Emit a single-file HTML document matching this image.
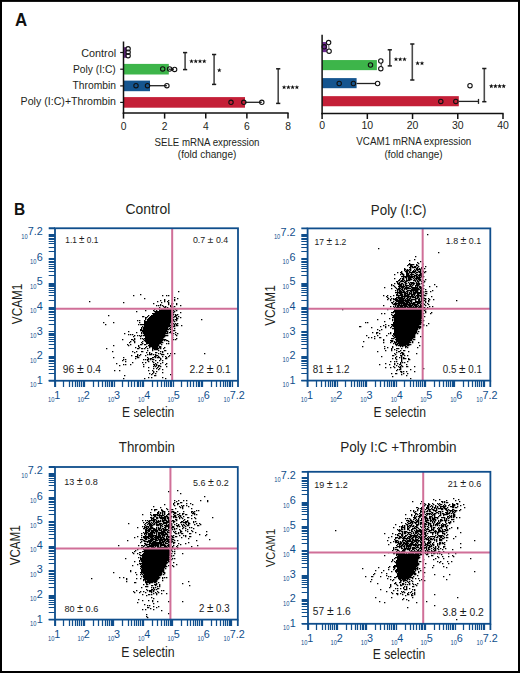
<!DOCTYPE html>
<html><head><meta charset="utf-8"><style>
html,body{margin:0;padding:0;background:#fff;}
svg{display:block;}
text{font-family:"Liberation Sans", sans-serif;}
</style></head><body>
<svg width="520" height="673" viewBox="0 0 520 673" fill="#231f20" font-family='"Liberation Sans", sans-serif'>
<rect width="520" height="673" fill="#fff"/>
<text x="15" y="25.6" font-size="17.6" textLength="12.2" lengthAdjust="spacingAndGlyphs" font-weight="bold" fill="#111">A</text>
<rect x="123.5" y="47.2" width="3.1" height="10.6" fill="#6c2a8e"/>
<rect x="123.5" y="63.9" width="45.3" height="10.6" fill="#3db54a"/>
<rect x="123.5" y="80.6" width="26.5" height="10.6" fill="#15558f"/>
<rect x="123.5" y="97.1" width="121.5" height="10.6" fill="#c41f37"/>
<line x1="150" y1="85.7" x2="166.9" y2="85.7" stroke="#222" stroke-width="1.3"/>
<line x1="245" y1="102.3" x2="261.8" y2="102.3" stroke="#222" stroke-width="1.3"/>
<line x1="168.8" y1="69.2" x2="174" y2="69.2" stroke="#222" stroke-width="1.3"/>
<circle cx="128.1" cy="48.8" r="2.2" fill="none" stroke="#111" stroke-width="1.1"/>
<circle cx="128.1" cy="52.2" r="2.2" fill="none" stroke="#111" stroke-width="1.1"/>
<circle cx="128.1" cy="55.7" r="2.2" fill="none" stroke="#111" stroke-width="1.1"/>
<circle cx="162.7" cy="68.9" r="2.2" fill="none" stroke="#111" stroke-width="1.1"/>
<circle cx="169.6" cy="69" r="2.2" fill="none" stroke="#111" stroke-width="1.1"/>
<circle cx="174.6" cy="69.4" r="2.2" fill="none" stroke="#111" stroke-width="1.1"/>
<circle cx="136" cy="85.7" r="2.2" fill="none" stroke="#111" stroke-width="1.1"/>
<circle cx="147.5" cy="85.7" r="2.2" fill="none" stroke="#111" stroke-width="1.1"/>
<circle cx="166.9" cy="85.7" r="2.2" fill="none" stroke="#111" stroke-width="1.1"/>
<circle cx="231" cy="102.3" r="2.2" fill="none" stroke="#111" stroke-width="1.1"/>
<circle cx="243.8" cy="102.3" r="2.2" fill="none" stroke="#111" stroke-width="1.1"/>
<circle cx="261.8" cy="102.3" r="2.2" fill="none" stroke="#111" stroke-width="1.1"/>
<line x1="123.5" y1="41.5" x2="123.5" y2="113.8" stroke="#111" stroke-width="1.5"/>
<line x1="122.75" y1="113" x2="288.6" y2="113" stroke="#111" stroke-width="1.5"/>
<line x1="123.5" y1="113" x2="123.5" y2="118.6" stroke="#111" stroke-width="1.5"/>
<text x="123.5" y="129.6" font-size="10.3" text-anchor="middle">0</text>
<line x1="164.62" y1="113" x2="164.62" y2="118.6" stroke="#111" stroke-width="1.5"/>
<text x="164.62" y="129.6" font-size="10.3" text-anchor="middle">2</text>
<line x1="205.75" y1="113" x2="205.75" y2="118.6" stroke="#111" stroke-width="1.5"/>
<text x="205.75" y="129.6" font-size="10.3" text-anchor="middle">4</text>
<line x1="246.88" y1="113" x2="246.88" y2="118.6" stroke="#111" stroke-width="1.5"/>
<text x="246.88" y="129.6" font-size="10.3" text-anchor="middle">6</text>
<line x1="288" y1="113" x2="288" y2="118.6" stroke="#111" stroke-width="1.5"/>
<text x="288" y="129.6" font-size="10.3" text-anchor="middle">8</text>
<line x1="120.2" y1="52.5" x2="123.5" y2="52.5" stroke="#111" stroke-width="1.2"/>
<line x1="120.2" y1="69.2" x2="123.5" y2="69.2" stroke="#111" stroke-width="1.2"/>
<line x1="120.2" y1="85.9" x2="123.5" y2="85.9" stroke="#111" stroke-width="1.2"/>
<line x1="120.2" y1="102.4" x2="123.5" y2="102.4" stroke="#111" stroke-width="1.2"/>
<text x="116.1" y="56.8" font-size="10.6" textLength="34.8" lengthAdjust="spacingAndGlyphs" text-anchor="end">Control</text>
<text x="115.8" y="72.6" font-size="10.6" textLength="42.9" lengthAdjust="spacingAndGlyphs" text-anchor="end">Poly (I:C)</text>
<text x="116" y="89" font-size="10.6" textLength="43.5" lengthAdjust="spacingAndGlyphs" text-anchor="end">Thrombin</text>
<text x="116" y="105.1" font-size="10.6" textLength="95.4" lengthAdjust="spacingAndGlyphs" text-anchor="end">Poly (I:C)+Thrombin</text>
<text x="207" y="146.1" font-size="11.6" textLength="105" lengthAdjust="spacingAndGlyphs" text-anchor="middle">SELE mRNA expression</text>
<text x="207.1" y="158.3" font-size="11.6" textLength="58.5" lengthAdjust="spacingAndGlyphs" text-anchor="middle">(fold change)</text>
<line x1="185.1" y1="52.6" x2="185.1" y2="69.6" stroke="#4a4a4a" stroke-width="1.6"/>
<line x1="183" y1="52.6" x2="187.2" y2="52.6" stroke="#1a1a1a" stroke-width="1.5"/>
<line x1="183" y1="69.6" x2="187.2" y2="69.6" stroke="#1a1a1a" stroke-width="1.5"/>
<path d="M191.5 58.9L192.12 60.45L193.78 60.56L192.5 61.62L192.91 63.24L191.5 62.35L190.09 63.24L190.5 61.62L189.22 60.56L190.88 60.45ZM195.75 58.9L196.37 60.45L198.03 60.56L196.75 61.62L197.16 63.24L195.75 62.35L194.34 63.24L194.75 61.62L193.47 60.56L195.13 60.45ZM200 58.9L200.62 60.45L202.28 60.56L201 61.62L201.41 63.24L200 62.35L198.59 63.24L199 61.62L197.72 60.56L199.38 60.45ZM204.25 58.9L204.87 60.45L206.53 60.56L205.25 61.62L205.66 63.24L204.25 62.35L202.84 63.24L203.25 61.62L201.97 60.56L203.63 60.45Z" fill="#111"/>
<line x1="214.1" y1="54.5" x2="214.1" y2="84.4" stroke="#4a4a4a" stroke-width="1.6"/>
<line x1="212" y1="54.5" x2="216.2" y2="54.5" stroke="#1a1a1a" stroke-width="1.5"/>
<line x1="212" y1="84.4" x2="216.2" y2="84.4" stroke="#1a1a1a" stroke-width="1.5"/>
<path d="M219.3 67.9L219.92 69.45L221.58 69.56L220.3 70.62L220.71 72.24L219.3 71.35L217.89 72.24L218.3 70.62L217.02 69.56L218.68 69.45Z" fill="#111"/>
<line x1="278.2" y1="68.8" x2="278.2" y2="103.4" stroke="#4a4a4a" stroke-width="1.6"/>
<line x1="276.1" y1="68.8" x2="280.3" y2="68.8" stroke="#1a1a1a" stroke-width="1.5"/>
<line x1="276.1" y1="103.4" x2="280.3" y2="103.4" stroke="#1a1a1a" stroke-width="1.5"/>
<path d="M284.1 84.9L284.72 86.45L286.38 86.56L285.1 87.62L285.51 89.24L284.1 88.35L282.69 89.24L283.1 87.62L281.82 86.56L283.48 86.45ZM288.4 84.9L289.02 86.45L290.68 86.56L289.4 87.62L289.81 89.24L288.4 88.35L286.99 89.24L287.4 87.62L286.12 86.56L287.78 86.45ZM292.6 84.9L293.22 86.45L294.88 86.56L293.6 87.62L294.01 89.24L292.6 88.35L291.19 89.24L291.6 87.62L290.32 86.56L291.98 86.45ZM296.9 84.9L297.52 86.45L299.18 86.56L297.9 87.62L298.31 89.24L296.9 88.35L295.49 89.24L295.9 87.62L294.62 86.56L296.28 86.45Z" fill="#111"/>
<rect x="322.1" y="42.05" width="5" height="10.1" fill="#6c2a8e"/>
<rect x="322.1" y="60.05" width="54.8" height="10.1" fill="#3db54a"/>
<rect x="322.1" y="78.1" width="34.5" height="10.1" fill="#15558f"/>
<rect x="322.1" y="96.15" width="136.7" height="10.1" fill="#c41f37"/>
<line x1="356.6" y1="83.5" x2="377.5" y2="83.5" stroke="#222" stroke-width="1.3"/>
<line x1="458.8" y1="101.4" x2="478.5" y2="101.4" stroke="#222" stroke-width="1.3"/>
<line x1="478.5" y1="98.9" x2="478.5" y2="103.9" stroke="#222" stroke-width="1.3"/>
<line x1="328.6" y1="42.5" x2="329.1" y2="51.2" stroke="#666" stroke-width="1"/>
<line x1="381.2" y1="61" x2="381.2" y2="68.7" stroke="#222" stroke-width="1"/>
<circle cx="324.2" cy="46.8" r="2.2" fill="none" stroke="#111" stroke-width="1.1"/>
<circle cx="328.6" cy="42.6" r="2.2" fill="#fff" stroke="#111" stroke-width="1.1"/>
<circle cx="329.1" cy="51.2" r="2.2" fill="#fff" stroke="#111" stroke-width="1.1"/>
<circle cx="370.5" cy="65" r="2.2" fill="none" stroke="#111" stroke-width="1.1"/>
<circle cx="380.8" cy="61" r="2.2" fill="#fff" stroke="#111" stroke-width="1.1"/>
<circle cx="380.8" cy="68.7" r="2.2" fill="#fff" stroke="#111" stroke-width="1.1"/>
<circle cx="339.2" cy="83.5" r="2.2" fill="none" stroke="#111" stroke-width="1.1"/>
<circle cx="353.4" cy="83.5" r="2.2" fill="none" stroke="#111" stroke-width="1.1"/>
<circle cx="377.6" cy="83.5" r="2.2" fill="#fff" stroke="#111" stroke-width="1.1"/>
<circle cx="440.8" cy="101.4" r="2.2" fill="none" stroke="#111" stroke-width="1.1"/>
<circle cx="455.8" cy="101.4" r="2.2" fill="none" stroke="#111" stroke-width="1.1"/>
<circle cx="470" cy="85.7" r="2.2" fill="#fff" stroke="#111" stroke-width="1.1"/>
<line x1="322.1" y1="34.7" x2="322.1" y2="114.2" stroke="#111" stroke-width="1.5"/>
<line x1="321.35" y1="113.5" x2="503.6" y2="113.5" stroke="#111" stroke-width="1.5"/>
<line x1="322.1" y1="113.5" x2="322.1" y2="119" stroke="#111" stroke-width="1.5"/>
<text x="322.1" y="129.4" font-size="10.5" text-anchor="middle">0</text>
<line x1="367.33" y1="113.5" x2="367.33" y2="119" stroke="#111" stroke-width="1.5"/>
<text x="367.33" y="129.4" font-size="10.5" text-anchor="middle">10</text>
<line x1="412.55" y1="113.5" x2="412.55" y2="119" stroke="#111" stroke-width="1.5"/>
<text x="412.55" y="129.4" font-size="10.5" text-anchor="middle">20</text>
<line x1="457.77" y1="113.5" x2="457.77" y2="119" stroke="#111" stroke-width="1.5"/>
<text x="457.77" y="129.4" font-size="10.5" text-anchor="middle">30</text>
<line x1="503" y1="113.5" x2="503" y2="119" stroke="#111" stroke-width="1.5"/>
<text x="503" y="129.4" font-size="10.5" text-anchor="middle">40</text>
<text x="413.8" y="145.2" font-size="11.5" textLength="115" lengthAdjust="spacingAndGlyphs" text-anchor="middle">VCAM1 mRNA expression</text>
<text x="413.5" y="158" font-size="11.5" textLength="58" lengthAdjust="spacingAndGlyphs" text-anchor="middle">(fold change)</text>
<line x1="389.8" y1="49.8" x2="389.8" y2="65.9" stroke="#4a4a4a" stroke-width="1.6"/>
<line x1="387.7" y1="49.8" x2="391.9" y2="49.8" stroke="#1a1a1a" stroke-width="1.5"/>
<line x1="387.7" y1="65.9" x2="391.9" y2="65.9" stroke="#1a1a1a" stroke-width="1.5"/>
<path d="M396 56.9L396.62 58.45L398.28 58.56L397 59.62L397.41 61.24L396 60.35L394.59 61.24L395 59.62L393.72 58.56L395.38 58.45ZM400.2 56.9L400.82 58.45L402.48 58.56L401.2 59.62L401.61 61.24L400.2 60.35L398.79 61.24L399.2 59.62L397.92 58.56L399.58 58.45ZM404.5 56.9L405.12 58.45L406.78 58.56L405.5 59.62L405.91 61.24L404.5 60.35L403.09 61.24L403.5 59.62L402.22 58.56L403.88 58.45Z" fill="#111"/>
<line x1="412.3" y1="44" x2="412.3" y2="80" stroke="#4a4a4a" stroke-width="1.6"/>
<line x1="410.2" y1="44" x2="414.4" y2="44" stroke="#1a1a1a" stroke-width="1.5"/>
<line x1="410.2" y1="80" x2="414.4" y2="80" stroke="#1a1a1a" stroke-width="1.5"/>
<path d="M417.6 60.9L418.22 62.45L419.88 62.56L418.6 63.62L419.01 65.24L417.6 64.35L416.19 65.24L416.6 63.62L415.32 62.56L416.98 62.45ZM422 60.9L422.62 62.45L424.28 62.56L423 63.62L423.41 65.24L422 64.35L420.59 65.24L421 63.62L419.72 62.56L421.38 62.45Z" fill="#111"/>
<line x1="484.3" y1="68.5" x2="484.3" y2="101.7" stroke="#4a4a4a" stroke-width="1.6"/>
<line x1="482.2" y1="68.5" x2="486.4" y2="68.5" stroke="#1a1a1a" stroke-width="1.5"/>
<line x1="482.2" y1="101.7" x2="486.4" y2="101.7" stroke="#1a1a1a" stroke-width="1.5"/>
<path d="M491.3 83.8L491.92 85.35L493.58 85.46L492.3 86.52L492.71 88.14L491.3 87.25L489.89 88.14L490.3 86.52L489.02 85.46L490.68 85.35ZM495.4 83.8L496.02 85.35L497.68 85.46L496.4 86.52L496.81 88.14L495.4 87.25L493.99 88.14L494.4 86.52L493.12 85.46L494.78 85.35ZM499.6 83.8L500.22 85.35L501.88 85.46L500.6 86.52L501.01 88.14L499.6 87.25L498.19 88.14L498.6 86.52L497.32 85.46L498.98 85.35ZM503.7 83.8L504.32 85.35L505.98 85.46L504.7 86.52L505.11 88.14L503.7 87.25L502.29 88.14L502.7 86.52L501.42 85.46L503.08 85.35Z" fill="#111"/>
<text x="14" y="214.8" font-size="16.8" textLength="11.2" lengthAdjust="spacingAndGlyphs" font-weight="bold" fill="#111">B</text>
<text x="125.4" y="213.8" font-size="14" textLength="44.9" lengthAdjust="spacingAndGlyphs">Control</text>
<path d="M178 291h1.35v1.35h-1.35zM140 294h1.35v1.35h-1.35zM133 295h1.35v1.35h-1.35zM162 295h1.35v1.35h-1.35zM166 295h1.35v1.35h-1.35zM168 295h1.35v1.35h-1.35zM174 297h1.35v1.35h-1.35zM144 298h1.35v1.35h-1.35zM177 298h1.35v1.35h-1.35zM164 299h1.35v1.35h-1.35zM174 299h1.35v1.35h-1.35zM160 300h1.35v1.35h-1.35zM164 300h1.35v1.35h-1.35zM168 300h1.35v1.35h-1.35zM174 300h1.35v1.35h-1.35zM89 301h1.35v1.35h-1.35zM157 301h1.35v1.35h-1.35zM164 301h1.35v1.35h-1.35zM167 301h1.35v1.35h-1.35zM123 302h1.35v1.35h-1.35zM161 302h1.35v1.35h-1.35zM168 302h1.35v1.35h-1.35zM153 303h1.35v1.35h-1.35zM168 303h1.35v1.35h-1.35zM171 303h2.35v1.35h-2.35zM176 303h1.35v1.35h-1.35zM160 304h1.35v1.35h-1.35zM168 304h1.35v1.35h-1.35zM171 304h1.35v1.35h-1.35zM176 304h1.35v1.35h-1.35zM156 305h1.35v1.35h-1.35zM158 305h1.35v1.35h-1.35zM160 305h1.35v1.35h-1.35zM162 305h1.35v1.35h-1.35zM170 305h1.35v1.35h-1.35zM180 305h1.35v1.35h-1.35zM163 306h1.35v1.35h-1.35zM165 306h1.35v1.35h-1.35zM170 306h3.35v1.35h-3.35zM174 306h1.35v1.35h-1.35zM159 307h1.35v1.35h-1.35zM164 307h2.35v1.35h-2.35zM167 307h1.35v1.35h-1.35zM171 307h2.35v1.35h-2.35zM158 308h1.35v1.35h-1.35zM160 308h1.35v1.35h-1.35zM165 308h2.35v1.35h-2.35zM168 308h1.35v1.35h-1.35zM172 308h6.35v1.35h-6.35zM154 309h1.35v1.35h-1.35zM159 309h1.35v1.35h-1.35zM161 309h12.35v1.35h-12.35zM175 309h1.35v1.35h-1.35zM145 310h1.35v1.35h-1.35zM153 310h1.35v1.35h-1.35zM156 310h1.35v1.35h-1.35zM159 310h15.35v1.35h-15.35zM176 310h1.35v1.35h-1.35zM136 311h1.35v1.35h-1.35zM154 311h19.35v1.35h-19.35zM174 311h1.35v1.35h-1.35zM155 312h17.35v1.35h-17.35zM173 312h1.35v1.35h-1.35zM180 312h1.35v1.35h-1.35zM152 313h21.35v1.35h-21.35zM153 314h19.35v1.35h-19.35zM173 314h1.35v1.35h-1.35zM175 314h1.35v1.35h-1.35zM177 314h1.35v1.35h-1.35zM108 315h1.35v1.35h-1.35zM148 315h1.35v1.35h-1.35zM151 315h22.35v1.35h-22.35zM175 315h2.35v1.35h-2.35zM142 316h2.35v1.35h-2.35zM147 316h1.35v1.35h-1.35zM150 316h23.35v1.35h-23.35zM174 316h2.35v1.35h-2.35zM178 316h1.35v1.35h-1.35zM145 317h2.35v1.35h-2.35zM149 317h22.35v1.35h-22.35zM172 317h2.35v1.35h-2.35zM176 317h1.35v1.35h-1.35zM180 317h1.35v1.35h-1.35zM145 318h1.35v1.35h-1.35zM148 318h24.35v1.35h-24.35zM176 318h2.35v1.35h-2.35zM145 319h1.35v1.35h-1.35zM147 319h24.35v1.35h-24.35zM172 319h2.35v1.35h-2.35zM175 319h2.35v1.35h-2.35zM201 319h1.35v1.35h-1.35zM137 320h1.35v1.35h-1.35zM139 320h1.35v1.35h-1.35zM144 320h1.35v1.35h-1.35zM147 320h27.35v1.35h-27.35zM176 320h1.35v1.35h-1.35zM144 321h29.35v1.35h-29.35zM174 321h1.35v1.35h-1.35zM103 322h1.35v1.35h-1.35zM113 322h1.35v1.35h-1.35zM139 322h1.35v1.35h-1.35zM144 322h27.35v1.35h-27.35zM144 323h26.35v1.35h-26.35zM171 323h1.35v1.35h-1.35zM173 323h1.35v1.35h-1.35zM175 323h1.35v1.35h-1.35zM177 323h1.35v1.35h-1.35zM105 324h1.35v1.35h-1.35zM138 324h1.35v1.35h-1.35zM140 324h30.35v1.35h-30.35zM171 324h2.35v1.35h-2.35zM174 324h1.35v1.35h-1.35zM176 324h1.35v1.35h-1.35zM144 325h27.35v1.35h-27.35zM172 325h1.35v1.35h-1.35zM174 325h1.35v1.35h-1.35zM176 325h2.35v1.35h-2.35zM181 325h1.35v1.35h-1.35zM142 326h1.35v1.35h-1.35zM144 326h26.35v1.35h-26.35zM171 326h1.35v1.35h-1.35zM173 326h2.35v1.35h-2.35zM141 327h1.35v1.35h-1.35zM143 327h25.35v1.35h-25.35zM170 327h1.35v1.35h-1.35zM141 328h1.35v1.35h-1.35zM143 328h25.35v1.35h-25.35zM169 328h1.35v1.35h-1.35zM174 328h1.35v1.35h-1.35zM140 329h2.35v1.35h-2.35zM143 329h26.35v1.35h-26.35zM170 329h1.35v1.35h-1.35zM140 330h27.35v1.35h-27.35zM173 330h2.35v1.35h-2.35zM128 331h1.35v1.35h-1.35zM142 331h26.35v1.35h-26.35zM170 331h1.35v1.35h-1.35zM136 332h1.35v1.35h-1.35zM141 332h1.35v1.35h-1.35zM143 332h23.35v1.35h-23.35zM167 332h1.35v1.35h-1.35zM169 332h2.35v1.35h-2.35zM175 332h1.35v1.35h-1.35zM124 333h1.35v1.35h-1.35zM141 333h1.35v1.35h-1.35zM143 333h25.35v1.35h-25.35zM171 333h1.35v1.35h-1.35zM173 333h1.35v1.35h-1.35zM177 333h1.35v1.35h-1.35zM128 334h1.35v1.35h-1.35zM130 334h1.35v1.35h-1.35zM132 334h1.35v1.35h-1.35zM144 334h21.35v1.35h-21.35zM175 334h1.35v1.35h-1.35zM134 335h1.35v1.35h-1.35zM137 335h1.35v1.35h-1.35zM139 335h1.35v1.35h-1.35zM141 335h1.35v1.35h-1.35zM143 335h25.35v1.35h-25.35zM172 335h1.35v1.35h-1.35zM176 335h1.35v1.35h-1.35zM133 336h1.35v1.35h-1.35zM140 336h1.35v1.35h-1.35zM145 336h20.35v1.35h-20.35zM145 337h19.35v1.35h-19.35zM172 337h1.35v1.35h-1.35zM134 338h1.35v1.35h-1.35zM140 338h1.35v1.35h-1.35zM142 338h1.35v1.35h-1.35zM144 338h19.35v1.35h-19.35zM176 338h1.35v1.35h-1.35zM122 339h1.35v1.35h-1.35zM131 339h2.35v1.35h-2.35zM134 339h1.35v1.35h-1.35zM143 339h1.35v1.35h-1.35zM145 339h21.35v1.35h-21.35zM173 339h1.35v1.35h-1.35zM175 339h1.35v1.35h-1.35zM133 340h1.35v1.35h-1.35zM144 340h19.35v1.35h-19.35zM164 340h1.35v1.35h-1.35zM166 340h2.35v1.35h-2.35zM130 341h1.35v1.35h-1.35zM134 341h1.35v1.35h-1.35zM142 341h1.35v1.35h-1.35zM145 341h17.35v1.35h-17.35zM168 341h1.35v1.35h-1.35zM129 342h1.35v1.35h-1.35zM134 342h1.35v1.35h-1.35zM141 342h1.35v1.35h-1.35zM146 342h17.35v1.35h-17.35zM142 343h1.35v1.35h-1.35zM146 343h15.35v1.35h-15.35zM166 343h1.35v1.35h-1.35zM168 343h1.35v1.35h-1.35zM127 344h1.35v1.35h-1.35zM130 344h1.35v1.35h-1.35zM140 344h2.35v1.35h-2.35zM144 344h2.35v1.35h-2.35zM149 344h10.35v1.35h-10.35zM161 344h1.35v1.35h-1.35zM113 345h1.35v1.35h-1.35zM128 345h1.35v1.35h-1.35zM138 345h1.35v1.35h-1.35zM148 345h11.35v1.35h-11.35zM138 346h1.35v1.35h-1.35zM146 346h1.35v1.35h-1.35zM149 346h9.35v1.35h-9.35zM159 346h2.35v1.35h-2.35zM135 347h1.35v1.35h-1.35zM139 347h1.35v1.35h-1.35zM145 347h1.35v1.35h-1.35zM149 347h1.35v1.35h-1.35zM152 347h6.35v1.35h-6.35zM159 347h2.35v1.35h-2.35zM164 347h1.35v1.35h-1.35zM106 348h1.35v1.35h-1.35zM137 348h2.35v1.35h-2.35zM141 348h2.35v1.35h-2.35zM144 348h1.35v1.35h-1.35zM147 348h1.35v1.35h-1.35zM152 348h7.35v1.35h-7.35zM160 348h1.35v1.35h-1.35zM163 348h1.35v1.35h-1.35zM152 349h1.35v1.35h-1.35zM154 349h4.35v1.35h-4.35zM147 350h1.35v1.35h-1.35zM152 350h1.35v1.35h-1.35zM158 350h1.35v1.35h-1.35zM164 350h2.35v1.35h-2.35zM112 351h1.35v1.35h-1.35zM132 351h1.35v1.35h-1.35zM136 351h1.35v1.35h-1.35zM141 351h2.35v1.35h-2.35zM160 351h1.35v1.35h-1.35zM162 351h1.35v1.35h-1.35zM134 352h1.35v1.35h-1.35zM146 352h1.35v1.35h-1.35zM149 352h1.35v1.35h-1.35zM155 352h2.35v1.35h-2.35zM162 352h1.35v1.35h-1.35zM149 353h1.35v1.35h-1.35zM151 353h1.35v1.35h-1.35zM158 353h1.35v1.35h-1.35zM160 353h1.35v1.35h-1.35zM167 353h1.35v1.35h-1.35zM170 353h1.35v1.35h-1.35zM174 353h1.35v1.35h-1.35zM204 353h1.35v1.35h-1.35zM137 354h1.35v1.35h-1.35zM140 354h1.35v1.35h-1.35zM147 354h1.35v1.35h-1.35zM149 354h3.35v1.35h-3.35zM153 354h1.35v1.35h-1.35zM155 354h1.35v1.35h-1.35zM161 354h3.35v1.35h-3.35zM131 355h1.35v1.35h-1.35zM137 355h1.35v1.35h-1.35zM139 355h1.35v1.35h-1.35zM145 355h1.35v1.35h-1.35zM155 355h3.35v1.35h-3.35zM169 355h1.35v1.35h-1.35zM135 356h3.35v1.35h-3.35zM154 356h2.35v1.35h-2.35zM158 356h1.35v1.35h-1.35zM162 356h1.35v1.35h-1.35zM165 356h1.35v1.35h-1.35zM168 356h1.35v1.35h-1.35zM113 357h1.35v1.35h-1.35zM123 357h1.35v1.35h-1.35zM137 357h2.35v1.35h-2.35zM147 357h1.35v1.35h-1.35zM152 357h2.35v1.35h-2.35zM155 357h1.35v1.35h-1.35zM157 357h3.35v1.35h-3.35zM166 357h1.35v1.35h-1.35zM135 358h1.35v1.35h-1.35zM148 358h1.35v1.35h-1.35zM150 358h2.35v1.35h-2.35zM160 358h1.35v1.35h-1.35zM165 358h2.35v1.35h-2.35zM123 359h1.35v1.35h-1.35zM125 359h1.35v1.35h-1.35zM143 359h1.35v1.35h-1.35zM145 359h1.35v1.35h-1.35zM147 359h2.35v1.35h-2.35zM150 359h1.35v1.35h-1.35zM152 359h2.35v1.35h-2.35zM160 359h1.35v1.35h-1.35zM122 360h1.35v1.35h-1.35zM147 360h1.35v1.35h-1.35zM155 360h1.35v1.35h-1.35zM159 360h1.35v1.35h-1.35zM162 360h1.35v1.35h-1.35zM125 361h1.35v1.35h-1.35zM148 361h1.35v1.35h-1.35zM152 361h1.35v1.35h-1.35zM132 362h1.35v1.35h-1.35zM142 362h1.35v1.35h-1.35zM145 362h1.35v1.35h-1.35zM153 362h1.35v1.35h-1.35zM157 362h1.35v1.35h-1.35zM162 362h1.35v1.35h-1.35zM116 363h1.35v1.35h-1.35zM155 363h1.35v1.35h-1.35zM160 363h1.35v1.35h-1.35zM166 363h1.35v1.35h-1.35zM123 364h1.35v1.35h-1.35zM125 364h1.35v1.35h-1.35zM130 364h1.35v1.35h-1.35zM143 364h1.35v1.35h-1.35zM153 364h2.35v1.35h-2.35zM156 364h1.35v1.35h-1.35zM165 364h1.35v1.35h-1.35zM119 365h1.35v1.35h-1.35zM154 365h1.35v1.35h-1.35zM156 365h1.35v1.35h-1.35zM158 365h2.35v1.35h-2.35zM143 366h1.35v1.35h-1.35zM153 366h1.35v1.35h-1.35zM155 366h1.35v1.35h-1.35zM158 366h1.35v1.35h-1.35zM160 366h1.35v1.35h-1.35zM166 366h1.35v1.35h-1.35zM148 367h1.35v1.35h-1.35zM157 367h1.35v1.35h-1.35zM153 368h1.35v1.35h-1.35zM156 368h1.35v1.35h-1.35zM159 368h1.35v1.35h-1.35zM158 369h1.35v1.35h-1.35zM162 369h1.35v1.35h-1.35zM114 370h1.35v1.35h-1.35zM119 370h1.35v1.35h-1.35zM148 370h1.35v1.35h-1.35zM152 370h1.35v1.35h-1.35zM153 371h1.35v1.35h-1.35zM156 371h1.35v1.35h-1.35zM153 372h1.35v1.35h-1.35zM162 372h1.35v1.35h-1.35zM149 373h1.35v1.35h-1.35zM152 373h1.35v1.35h-1.35zM155 373h1.35v1.35h-1.35zM151 374h1.35v1.35h-1.35zM170 374h1.35v1.35h-1.35zM124 375h1.35v1.35h-1.35zM154 375h2.35v1.35h-2.35zM148 377h1.35v1.35h-1.35zM151 377h1.35v1.35h-1.35zM162 377h1.35v1.35h-1.35zM123 378h1.35v1.35h-1.35zM144 378h1.35v1.35h-1.35zM165 378h1.35v1.35h-1.35z" fill="#000"/>
<line x1="55" y1="308.68" x2="238" y2="308.68" stroke="#d06f98" stroke-width="2"/>
<line x1="172.18" y1="228.25" x2="172.18" y2="380.75" stroke="#d06f98" stroke-width="2"/>
<rect x="55" y="228.25" width="183" height="152.5" fill="none" stroke="#0f4e8c" stroke-width="1.8"/>
<path d="M48.7 228.25H55M238 380.75V387.05M48.7 380.75H55M55 380.75V387.05" stroke="#0f4e8c" stroke-width="1.8" fill="none"/>
<path d="M48.7 380.5H55M48.7 373.5H55M48.7 369.5H55M48.7 366.5H55M48.7 363.5H55M48.7 361.5H55M48.7 360.5H55M48.7 358.5H55M48.7 357.5H55M48.7 356.5H55M48.7 348.5H55M48.7 344.5H55M48.7 341.5H55M48.7 339.5H55M48.7 337.5H55M48.7 335.5H55M48.7 334.5H55M48.7 333.5H55M48.7 331.5H55M48.7 324.5H55M48.7 320.5H55M48.7 317.5H55M48.7 314.5H55M48.7 312.5H55M48.7 311.5H55M48.7 309.5H55M48.7 308.5H55M48.7 307.5H55M48.7 300.5H55M48.7 295.5H55M48.7 292.5H55M48.7 290.5H55M48.7 288.5H55M48.7 286.5H55M48.7 285.5H55M48.7 284.5H55M48.7 283.5H55M48.7 275.5H55M48.7 271.5H55M48.7 268.5H55M48.7 266.5H55M48.7 264.5H55M48.7 262.5H55M48.7 261.5H55M48.7 259.5H55M48.7 258.5H55M48.7 251.5H55M48.7 247.5H55M48.7 243.5H55M48.7 241.5H55M48.7 239.5H55M48.7 238.5H55M48.7 236.5H55M48.7 235.5H55M48.7 234.5H55" stroke="#0f4e8c" stroke-width="1.0" fill="none"/>
<path d="M55.5 380.75V387.05M63.5 380.75V387.05M69.5 380.75V387.05M72.5 380.75V387.05M75.5 380.75V387.05M77.5 380.75V387.05M79.5 380.75V387.05M81.5 380.75V387.05M83.5 380.75V387.05M84.5 380.75V387.05M93.5 380.75V387.05M98.5 380.75V387.05M102.5 380.75V387.05M105.5 380.75V387.05M107.5 380.75V387.05M109.5 380.75V387.05M111.5 380.75V387.05M112.5 380.75V387.05M114.5 380.75V387.05M122.5 380.75V387.05M128.5 380.75V387.05M131.5 380.75V387.05M134.5 380.75V387.05M137.5 380.75V387.05M138.5 380.75V387.05M140.5 380.75V387.05M142.5 380.75V387.05M143.5 380.75V387.05M152.5 380.75V387.05M157.5 380.75V387.05M161.5 380.75V387.05M164.5 380.75V387.05M166.5 380.75V387.05M168.5 380.75V387.05M170.5 380.75V387.05M171.5 380.75V387.05M173.5 380.75V387.05M181.5 380.75V387.05M187.5 380.75V387.05M190.5 380.75V387.05M193.5 380.75V387.05M196.5 380.75V387.05M198.5 380.75V387.05M199.5 380.75V387.05M201.5 380.75V387.05M202.5 380.75V387.05M211.5 380.75V387.05M216.5 380.75V387.05M220.5 380.75V387.05M223.5 380.75V387.05M225.5 380.75V387.05M227.5 380.75V387.05M229.5 380.75V387.05M230.5 380.75V387.05M232.5 380.75V387.05" stroke="#0f4e8c" stroke-width="1.25" fill="none"/>
<text x="42.8" y="383.75" font-size="10.8" text-anchor="end" fill="#0f4e8c">1</text>
<text x="36.4" y="387.15" font-size="6.6" textLength="6.4" lengthAdjust="spacingAndGlyphs" text-anchor="end" fill="#0f4e8c">10</text>
<text x="42.8" y="359.15" font-size="10.8" text-anchor="end" fill="#0f4e8c">2</text>
<text x="36.4" y="362.55" font-size="6.6" textLength="6.4" lengthAdjust="spacingAndGlyphs" text-anchor="end" fill="#0f4e8c">10</text>
<text x="42.8" y="334.56" font-size="10.8" text-anchor="end" fill="#0f4e8c">3</text>
<text x="36.4" y="337.96" font-size="6.6" textLength="6.4" lengthAdjust="spacingAndGlyphs" text-anchor="end" fill="#0f4e8c">10</text>
<text x="42.8" y="309.96" font-size="10.8" text-anchor="end" fill="#0f4e8c">4</text>
<text x="36.4" y="313.36" font-size="6.6" textLength="6.4" lengthAdjust="spacingAndGlyphs" text-anchor="end" fill="#0f4e8c">10</text>
<text x="42.8" y="285.36" font-size="10.8" text-anchor="end" fill="#0f4e8c">5</text>
<text x="36.4" y="288.76" font-size="6.6" textLength="6.4" lengthAdjust="spacingAndGlyphs" text-anchor="end" fill="#0f4e8c">10</text>
<text x="42.8" y="260.77" font-size="10.8" text-anchor="end" fill="#0f4e8c">6</text>
<text x="36.4" y="264.17" font-size="6.6" textLength="6.4" lengthAdjust="spacingAndGlyphs" text-anchor="end" fill="#0f4e8c">10</text>
<text x="42.8" y="235.45" font-size="10.8" text-anchor="end" fill="#0f4e8c">7.2</text>
<text x="27.7" y="238.85" font-size="6.6" textLength="6.4" lengthAdjust="spacingAndGlyphs" text-anchor="end" fill="#0f4e8c">10</text>
<text x="54.5" y="402.35" font-size="6.6" textLength="6.4" lengthAdjust="spacingAndGlyphs" text-anchor="end" fill="#0f4e8c">10</text>
<text x="54.3" y="398.75" font-size="10.8" fill="#0f4e8c">1</text>
<text x="83.95" y="402.35" font-size="6.6" textLength="6.4" lengthAdjust="spacingAndGlyphs" text-anchor="end" fill="#0f4e8c">10</text>
<text x="83.75" y="398.75" font-size="10.8" fill="#0f4e8c">2</text>
<text x="114.15" y="402.35" font-size="6.6" textLength="6.4" lengthAdjust="spacingAndGlyphs" text-anchor="end" fill="#0f4e8c">10</text>
<text x="113.95" y="398.75" font-size="10.8" fill="#0f4e8c">3</text>
<text x="144.45" y="402.35" font-size="6.6" textLength="6.4" lengthAdjust="spacingAndGlyphs" text-anchor="end" fill="#0f4e8c">10</text>
<text x="144.25" y="398.75" font-size="10.8" fill="#0f4e8c">4</text>
<text x="173.95" y="402.35" font-size="6.6" textLength="6.4" lengthAdjust="spacingAndGlyphs" text-anchor="end" fill="#0f4e8c">10</text>
<text x="173.75" y="398.75" font-size="10.8" fill="#0f4e8c">5</text>
<text x="203.95" y="402.35" font-size="6.6" textLength="6.4" lengthAdjust="spacingAndGlyphs" text-anchor="end" fill="#0f4e8c">10</text>
<text x="203.75" y="398.75" font-size="10.8" fill="#0f4e8c">6</text>
<text x="230" y="402.35" font-size="6.6" textLength="6.4" lengthAdjust="spacingAndGlyphs" text-anchor="end" fill="#0f4e8c">10</text>
<text x="229.8" y="398.75" font-size="10.8" fill="#0f4e8c">7.2</text>
<text x="122" y="416.9" font-size="13.8" textLength="52.3" lengthAdjust="spacingAndGlyphs">E selectin</text>
<text transform="translate(22.2 324.2) rotate(-90)" font-size="14.2" textLength="40.5" lengthAdjust="spacingAndGlyphs" fill="#231f20">VCAM1</text>
<text x="65.3" y="243" font-size="8.5" textLength="33" lengthAdjust="spacingAndGlyphs" fill="#1a1a1a">1.1 <tspan font-size="10.2">±</tspan> 0.1</text>
<text x="228.2" y="242.9" font-size="8.3" textLength="35.3" lengthAdjust="spacingAndGlyphs" text-anchor="end" fill="#1a1a1a">0.7 <tspan font-size="9.96">±</tspan> 0.4</text>
<text x="62.8" y="372.9" font-size="10.3" textLength="38.2" lengthAdjust="spacingAndGlyphs" fill="#1a1a1a">96 <tspan font-size="12.36">±</tspan> 0.4</text>
<text x="230.7" y="372.9" font-size="10.3" textLength="41.1" lengthAdjust="spacingAndGlyphs" text-anchor="end" fill="#1a1a1a">2.2 <tspan font-size="12.36">±</tspan> 0.1</text>
<text x="370.8" y="214.8" font-size="14" textLength="55.7" lengthAdjust="spacingAndGlyphs">Poly (I:C)</text>
<path d="M427 234h1.35v1.35h-1.35zM378 248h1.35v1.35h-1.35zM438 252h1.35v1.35h-1.35zM415 256h1.35v1.35h-1.35zM414 259h1.35v1.35h-1.35zM409 260h1.35v1.35h-1.35zM420 261h1.35v1.35h-1.35zM417 262h1.35v1.35h-1.35zM409 263h1.35v1.35h-1.35zM418 263h1.35v1.35h-1.35zM422 263h1.35v1.35h-1.35zM408 264h6.35v1.35h-6.35zM416 264h1.35v1.35h-1.35zM422 264h1.35v1.35h-1.35zM407 265h1.35v1.35h-1.35zM410 265h2.35v1.35h-2.35zM416 265h2.35v1.35h-2.35zM410 266h3.35v1.35h-3.35zM414 266h2.35v1.35h-2.35zM418 266h1.35v1.35h-1.35zM422 266h1.35v1.35h-1.35zM425 266h1.35v1.35h-1.35zM409 267h2.35v1.35h-2.35zM412 267h4.35v1.35h-4.35zM417 267h1.35v1.35h-1.35zM421 267h1.35v1.35h-1.35zM404 268h1.35v1.35h-1.35zM410 268h1.35v1.35h-1.35zM416 268h2.35v1.35h-2.35zM419 268h1.35v1.35h-1.35zM421 268h1.35v1.35h-1.35zM424 268h1.35v1.35h-1.35zM404 269h2.35v1.35h-2.35zM407 269h1.35v1.35h-1.35zM409 269h2.35v1.35h-2.35zM414 269h1.35v1.35h-1.35zM416 269h5.35v1.35h-5.35zM404 270h1.35v1.35h-1.35zM406 270h3.35v1.35h-3.35zM410 270h1.35v1.35h-1.35zM413 270h1.35v1.35h-1.35zM415 270h1.35v1.35h-1.35zM417 270h1.35v1.35h-1.35zM420 270h1.35v1.35h-1.35zM422 270h1.35v1.35h-1.35zM401 271h1.35v1.35h-1.35zM405 271h3.35v1.35h-3.35zM409 271h1.35v1.35h-1.35zM412 271h4.35v1.35h-4.35zM418 271h3.35v1.35h-3.35zM423 271h1.35v1.35h-1.35zM425 271h1.35v1.35h-1.35zM397 272h1.35v1.35h-1.35zM400 272h2.35v1.35h-2.35zM406 272h2.35v1.35h-2.35zM409 272h6.35v1.35h-6.35zM416 272h2.35v1.35h-2.35zM419 272h2.35v1.35h-2.35zM424 272h1.35v1.35h-1.35zM401 273h2.35v1.35h-2.35zM406 273h3.35v1.35h-3.35zM411 273h1.35v1.35h-1.35zM415 273h1.35v1.35h-1.35zM420 273h3.35v1.35h-3.35zM394 274h1.35v1.35h-1.35zM400 274h1.35v1.35h-1.35zM402 274h2.35v1.35h-2.35zM406 274h3.35v1.35h-3.35zM410 274h4.35v1.35h-4.35zM416 274h2.35v1.35h-2.35zM419 274h4.35v1.35h-4.35zM403 275h1.35v1.35h-1.35zM406 275h4.35v1.35h-4.35zM411 275h1.35v1.35h-1.35zM414 275h3.35v1.35h-3.35zM418 275h5.35v1.35h-5.35zM401 276h14.35v1.35h-14.35zM416 276h2.35v1.35h-2.35zM419 276h1.35v1.35h-1.35zM421 276h3.35v1.35h-3.35zM403 277h1.35v1.35h-1.35zM405 277h2.35v1.35h-2.35zM408 277h5.35v1.35h-5.35zM414 277h1.35v1.35h-1.35zM416 277h5.35v1.35h-5.35zM422 277h1.35v1.35h-1.35zM394 278h1.35v1.35h-1.35zM400 278h1.35v1.35h-1.35zM402 278h2.35v1.35h-2.35zM406 278h1.35v1.35h-1.35zM408 278h3.35v1.35h-3.35zM413 278h1.35v1.35h-1.35zM415 278h5.35v1.35h-5.35zM399 279h1.35v1.35h-1.35zM402 279h2.35v1.35h-2.35zM406 279h1.35v1.35h-1.35zM408 279h4.35v1.35h-4.35zM414 279h1.35v1.35h-1.35zM416 279h1.35v1.35h-1.35zM418 279h3.35v1.35h-3.35zM425 279h1.35v1.35h-1.35zM398 280h2.35v1.35h-2.35zM401 280h2.35v1.35h-2.35zM404 280h1.35v1.35h-1.35zM406 280h4.35v1.35h-4.35zM413 280h3.35v1.35h-3.35zM417 280h1.35v1.35h-1.35zM419 280h2.35v1.35h-2.35zM422 280h2.35v1.35h-2.35zM396 281h2.35v1.35h-2.35zM400 281h4.35v1.35h-4.35zM405 281h2.35v1.35h-2.35zM415 281h1.35v1.35h-1.35zM417 281h2.35v1.35h-2.35zM421 281h1.35v1.35h-1.35zM424 281h1.35v1.35h-1.35zM397 282h1.35v1.35h-1.35zM399 282h1.35v1.35h-1.35zM404 282h2.35v1.35h-2.35zM408 282h1.35v1.35h-1.35zM410 282h4.35v1.35h-4.35zM416 282h1.35v1.35h-1.35zM418 282h1.35v1.35h-1.35zM422 282h2.35v1.35h-2.35zM394 283h1.35v1.35h-1.35zM397 283h3.35v1.35h-3.35zM401 283h2.35v1.35h-2.35zM405 283h2.35v1.35h-2.35zM409 283h1.35v1.35h-1.35zM411 283h4.35v1.35h-4.35zM416 283h4.35v1.35h-4.35zM421 283h1.35v1.35h-1.35zM391 284h1.35v1.35h-1.35zM398 284h4.35v1.35h-4.35zM403 284h1.35v1.35h-1.35zM405 284h1.35v1.35h-1.35zM409 284h3.35v1.35h-3.35zM413 284h1.35v1.35h-1.35zM416 284h4.35v1.35h-4.35zM422 284h1.35v1.35h-1.35zM434 284h1.35v1.35h-1.35zM391 285h1.35v1.35h-1.35zM393 285h1.35v1.35h-1.35zM399 285h3.35v1.35h-3.35zM403 285h1.35v1.35h-1.35zM405 285h4.35v1.35h-4.35zM410 285h1.35v1.35h-1.35zM412 285h1.35v1.35h-1.35zM415 285h4.35v1.35h-4.35zM422 285h2.35v1.35h-2.35zM394 286h1.35v1.35h-1.35zM398 286h7.35v1.35h-7.35zM406 286h1.35v1.35h-1.35zM409 286h3.35v1.35h-3.35zM415 286h1.35v1.35h-1.35zM417 286h1.35v1.35h-1.35zM419 286h2.35v1.35h-2.35zM422 286h1.35v1.35h-1.35zM429 286h1.35v1.35h-1.35zM436 286h1.35v1.35h-1.35zM384 287h1.35v1.35h-1.35zM395 287h1.35v1.35h-1.35zM399 287h1.35v1.35h-1.35zM401 287h3.35v1.35h-3.35zM405 287h4.35v1.35h-4.35zM411 287h7.35v1.35h-7.35zM419 287h3.35v1.35h-3.35zM391 288h1.35v1.35h-1.35zM396 288h1.35v1.35h-1.35zM398 288h3.35v1.35h-3.35zM402 288h1.35v1.35h-1.35zM404 288h7.35v1.35h-7.35zM412 288h7.35v1.35h-7.35zM420 288h4.35v1.35h-4.35zM397 289h3.35v1.35h-3.35zM401 289h2.35v1.35h-2.35zM404 289h1.35v1.35h-1.35zM406 289h1.35v1.35h-1.35zM411 289h9.35v1.35h-9.35zM421 289h2.35v1.35h-2.35zM425 289h1.35v1.35h-1.35zM395 290h1.35v1.35h-1.35zM397 290h1.35v1.35h-1.35zM399 290h2.35v1.35h-2.35zM402 290h2.35v1.35h-2.35zM407 290h11.35v1.35h-11.35zM420 290h2.35v1.35h-2.35zM432 290h1.35v1.35h-1.35zM397 291h1.35v1.35h-1.35zM399 291h3.35v1.35h-3.35zM403 291h2.35v1.35h-2.35zM406 291h2.35v1.35h-2.35zM410 291h2.35v1.35h-2.35zM413 291h1.35v1.35h-1.35zM415 291h3.35v1.35h-3.35zM420 291h4.35v1.35h-4.35zM425 291h2.35v1.35h-2.35zM430 291h1.35v1.35h-1.35zM395 292h11.35v1.35h-11.35zM407 292h1.35v1.35h-1.35zM409 292h1.35v1.35h-1.35zM411 292h1.35v1.35h-1.35zM413 292h9.35v1.35h-9.35zM423 292h1.35v1.35h-1.35zM397 293h1.35v1.35h-1.35zM399 293h3.35v1.35h-3.35zM404 293h4.35v1.35h-4.35zM409 293h3.35v1.35h-3.35zM413 293h3.35v1.35h-3.35zM417 293h6.35v1.35h-6.35zM425 293h2.35v1.35h-2.35zM396 294h2.35v1.35h-2.35zM400 294h3.35v1.35h-3.35zM404 294h2.35v1.35h-2.35zM407 294h3.35v1.35h-3.35zM411 294h4.35v1.35h-4.35zM417 294h2.35v1.35h-2.35zM421 294h3.35v1.35h-3.35zM383 295h1.35v1.35h-1.35zM387 295h1.35v1.35h-1.35zM393 295h1.35v1.35h-1.35zM396 295h7.35v1.35h-7.35zM404 295h5.35v1.35h-5.35zM411 295h2.35v1.35h-2.35zM414 295h1.35v1.35h-1.35zM416 295h6.35v1.35h-6.35zM423 295h3.35v1.35h-3.35zM386 296h1.35v1.35h-1.35zM390 296h1.35v1.35h-1.35zM398 296h1.35v1.35h-1.35zM401 296h13.35v1.35h-13.35zM415 296h1.35v1.35h-1.35zM417 296h2.35v1.35h-2.35zM420 296h3.35v1.35h-3.35zM431 296h1.35v1.35h-1.35zM387 297h1.35v1.35h-1.35zM396 297h7.35v1.35h-7.35zM404 297h1.35v1.35h-1.35zM407 297h2.35v1.35h-2.35zM410 297h1.35v1.35h-1.35zM412 297h4.35v1.35h-4.35zM417 297h2.35v1.35h-2.35zM421 297h1.35v1.35h-1.35zM423 297h1.35v1.35h-1.35zM388 298h1.35v1.35h-1.35zM391 298h1.35v1.35h-1.35zM393 298h1.35v1.35h-1.35zM395 298h2.35v1.35h-2.35zM398 298h7.35v1.35h-7.35zM406 298h2.35v1.35h-2.35zM409 298h2.35v1.35h-2.35zM415 298h3.35v1.35h-3.35zM419 298h1.35v1.35h-1.35zM421 298h5.35v1.35h-5.35zM428 298h1.35v1.35h-1.35zM387 299h1.35v1.35h-1.35zM390 299h1.35v1.35h-1.35zM393 299h5.35v1.35h-5.35zM399 299h5.35v1.35h-5.35zM405 299h1.35v1.35h-1.35zM407 299h3.35v1.35h-3.35zM411 299h5.35v1.35h-5.35zM418 299h2.35v1.35h-2.35zM421 299h2.35v1.35h-2.35zM425 299h1.35v1.35h-1.35zM429 299h1.35v1.35h-1.35zM433 299h1.35v1.35h-1.35zM390 300h1.35v1.35h-1.35zM395 300h17.35v1.35h-17.35zM415 300h1.35v1.35h-1.35zM418 300h2.35v1.35h-2.35zM421 300h4.35v1.35h-4.35zM428 300h1.35v1.35h-1.35zM456 300h1.35v1.35h-1.35zM393 301h1.35v1.35h-1.35zM396 301h8.35v1.35h-8.35zM405 301h4.35v1.35h-4.35zM410 301h2.35v1.35h-2.35zM415 301h8.35v1.35h-8.35zM425 301h1.35v1.35h-1.35zM428 301h1.35v1.35h-1.35zM391 302h2.35v1.35h-2.35zM395 302h1.35v1.35h-1.35zM398 302h7.35v1.35h-7.35zM406 302h4.35v1.35h-4.35zM411 302h1.35v1.35h-1.35zM413 302h8.35v1.35h-8.35zM422 302h1.35v1.35h-1.35zM425 302h1.35v1.35h-1.35zM392 303h1.35v1.35h-1.35zM394 303h14.35v1.35h-14.35zM409 303h6.35v1.35h-6.35zM417 303h3.35v1.35h-3.35zM421 303h3.35v1.35h-3.35zM427 303h1.35v1.35h-1.35zM393 304h4.35v1.35h-4.35zM398 304h2.35v1.35h-2.35zM401 304h1.35v1.35h-1.35zM403 304h8.35v1.35h-8.35zM412 304h6.35v1.35h-6.35zM420 304h1.35v1.35h-1.35zM422 304h1.35v1.35h-1.35zM424 304h1.35v1.35h-1.35zM428 304h1.35v1.35h-1.35zM383 305h1.35v1.35h-1.35zM395 305h1.35v1.35h-1.35zM397 305h10.35v1.35h-10.35zM408 305h5.35v1.35h-5.35zM414 305h3.35v1.35h-3.35zM418 305h1.35v1.35h-1.35zM420 305h3.35v1.35h-3.35zM425 305h1.35v1.35h-1.35zM390 306h1.35v1.35h-1.35zM393 306h1.35v1.35h-1.35zM395 306h1.35v1.35h-1.35zM397 306h2.35v1.35h-2.35zM400 306h3.35v1.35h-3.35zM404 306h4.35v1.35h-4.35zM409 306h3.35v1.35h-3.35zM413 306h1.35v1.35h-1.35zM415 306h3.35v1.35h-3.35zM419 306h4.35v1.35h-4.35zM429 306h1.35v1.35h-1.35zM432 306h1.35v1.35h-1.35zM394 307h1.35v1.35h-1.35zM396 307h10.35v1.35h-10.35zM407 307h10.35v1.35h-10.35zM418 307h7.35v1.35h-7.35zM427 307h1.35v1.35h-1.35zM394 308h30.35v1.35h-30.35zM342 309h1.35v1.35h-1.35zM387 309h1.35v1.35h-1.35zM394 309h28.35v1.35h-28.35zM423 309h1.35v1.35h-1.35zM425 309h1.35v1.35h-1.35zM394 310h29.35v1.35h-29.35zM424 310h1.35v1.35h-1.35zM393 311h29.35v1.35h-29.35zM425 311h1.35v1.35h-1.35zM391 312h3.35v1.35h-3.35zM395 312h27.35v1.35h-27.35zM425 312h1.35v1.35h-1.35zM431 312h1.35v1.35h-1.35zM381 313h1.35v1.35h-1.35zM384 313h1.35v1.35h-1.35zM395 313h27.35v1.35h-27.35zM423 313h1.35v1.35h-1.35zM430 313h1.35v1.35h-1.35zM391 314h1.35v1.35h-1.35zM394 314h28.35v1.35h-28.35zM392 315h31.35v1.35h-31.35zM393 316h29.35v1.35h-29.35zM424 316h1.35v1.35h-1.35zM392 317h30.35v1.35h-30.35zM389 318h1.35v1.35h-1.35zM394 318h29.35v1.35h-29.35zM377 319h1.35v1.35h-1.35zM392 319h1.35v1.35h-1.35zM394 319h27.35v1.35h-27.35zM422 319h1.35v1.35h-1.35zM392 320h1.35v1.35h-1.35zM394 320h30.35v1.35h-30.35zM384 321h1.35v1.35h-1.35zM394 321h27.35v1.35h-27.35zM422 321h1.35v1.35h-1.35zM365 322h1.35v1.35h-1.35zM367 322h1.35v1.35h-1.35zM393 322h29.35v1.35h-29.35zM393 323h28.35v1.35h-28.35zM428 323h1.35v1.35h-1.35zM385 324h1.35v1.35h-1.35zM391 324h30.35v1.35h-30.35zM422 324h2.35v1.35h-2.35zM383 325h1.35v1.35h-1.35zM388 325h1.35v1.35h-1.35zM392 325h27.35v1.35h-27.35zM423 325h1.35v1.35h-1.35zM426 325h1.35v1.35h-1.35zM359 326h2.35v1.35h-2.35zM380 326h1.35v1.35h-1.35zM385 326h1.35v1.35h-1.35zM391 326h1.35v1.35h-1.35zM393 326h28.35v1.35h-28.35zM371 327h1.35v1.35h-1.35zM385 327h1.35v1.35h-1.35zM390 327h1.35v1.35h-1.35zM394 327h27.35v1.35h-27.35zM392 328h26.35v1.35h-26.35zM419 328h1.35v1.35h-1.35zM377 329h1.35v1.35h-1.35zM381 329h1.35v1.35h-1.35zM394 329h24.35v1.35h-24.35zM379 330h1.35v1.35h-1.35zM394 330h23.35v1.35h-23.35zM394 331h23.35v1.35h-23.35zM418 331h1.35v1.35h-1.35zM372 332h1.35v1.35h-1.35zM376 332h2.35v1.35h-2.35zM390 332h1.35v1.35h-1.35zM394 332h23.35v1.35h-23.35zM376 333h1.35v1.35h-1.35zM379 333h1.35v1.35h-1.35zM388 333h1.35v1.35h-1.35zM390 333h1.35v1.35h-1.35zM393 333h23.35v1.35h-23.35zM417 333h1.35v1.35h-1.35zM393 334h22.35v1.35h-22.35zM366 335h1.35v1.35h-1.35zM377 335h1.35v1.35h-1.35zM386 335h1.35v1.35h-1.35zM392 335h1.35v1.35h-1.35zM394 335h21.35v1.35h-21.35zM374 336h1.35v1.35h-1.35zM393 336h1.35v1.35h-1.35zM395 336h20.35v1.35h-20.35zM420 336h1.35v1.35h-1.35zM368 337h1.35v1.35h-1.35zM371 337h1.35v1.35h-1.35zM379 337h2.35v1.35h-2.35zM394 337h21.35v1.35h-21.35zM374 338h1.35v1.35h-1.35zM391 338h3.35v1.35h-3.35zM396 338h17.35v1.35h-17.35zM383 339h1.35v1.35h-1.35zM395 339h17.35v1.35h-17.35zM413 339h2.35v1.35h-2.35zM383 340h1.35v1.35h-1.35zM390 340h3.35v1.35h-3.35zM396 340h16.35v1.35h-16.35zM363 341h1.35v1.35h-1.35zM391 341h2.35v1.35h-2.35zM394 341h1.35v1.35h-1.35zM396 341h14.35v1.35h-14.35zM412 341h1.35v1.35h-1.35zM383 342h1.35v1.35h-1.35zM390 342h1.35v1.35h-1.35zM394 342h3.35v1.35h-3.35zM398 342h13.35v1.35h-13.35zM412 342h1.35v1.35h-1.35zM418 342h1.35v1.35h-1.35zM393 343h1.35v1.35h-1.35zM395 343h1.35v1.35h-1.35zM397 343h12.35v1.35h-12.35zM395 344h3.35v1.35h-3.35zM399 344h12.35v1.35h-12.35zM396 345h1.35v1.35h-1.35zM398 345h8.35v1.35h-8.35zM407 345h2.35v1.35h-2.35zM419 345h1.35v1.35h-1.35zM362 346h1.35v1.35h-1.35zM384 346h1.35v1.35h-1.35zM392 346h1.35v1.35h-1.35zM400 346h1.35v1.35h-1.35zM402 346h1.35v1.35h-1.35zM405 346h2.35v1.35h-2.35zM387 347h1.35v1.35h-1.35zM392 347h1.35v1.35h-1.35zM405 347h1.35v1.35h-1.35zM407 347h1.35v1.35h-1.35zM417 347h1.35v1.35h-1.35zM384 348h1.35v1.35h-1.35zM391 348h1.35v1.35h-1.35zM396 348h3.35v1.35h-3.35zM401 348h1.35v1.35h-1.35zM391 349h1.35v1.35h-1.35zM394 349h1.35v1.35h-1.35zM385 350h1.35v1.35h-1.35zM391 350h1.35v1.35h-1.35zM396 350h1.35v1.35h-1.35zM400 350h1.35v1.35h-1.35zM403 350h2.35v1.35h-2.35zM377 351h1.35v1.35h-1.35zM398 351h2.35v1.35h-2.35zM408 351h1.35v1.35h-1.35zM396 352h1.35v1.35h-1.35zM401 352h2.35v1.35h-2.35zM394 353h1.35v1.35h-1.35zM400 353h1.35v1.35h-1.35zM402 353h2.35v1.35h-2.35zM416 353h1.35v1.35h-1.35zM395 354h1.35v1.35h-1.35zM402 354h2.35v1.35h-2.35zM392 355h2.35v1.35h-2.35zM400 355h2.35v1.35h-2.35zM404 355h1.35v1.35h-1.35zM407 355h1.35v1.35h-1.35zM381 356h1.35v1.35h-1.35zM396 356h1.35v1.35h-1.35zM401 356h1.35v1.35h-1.35zM395 357h1.35v1.35h-1.35zM399 357h1.35v1.35h-1.35zM401 357h1.35v1.35h-1.35zM403 357h1.35v1.35h-1.35zM392 358h1.35v1.35h-1.35zM395 358h1.35v1.35h-1.35zM401 358h1.35v1.35h-1.35zM403 358h3.35v1.35h-3.35zM408 358h1.35v1.35h-1.35zM396 359h1.35v1.35h-1.35zM401 359h1.35v1.35h-1.35zM408 359h2.35v1.35h-2.35zM401 360h1.35v1.35h-1.35zM390 361h1.35v1.35h-1.35zM394 361h1.35v1.35h-1.35zM396 361h1.35v1.35h-1.35zM401 361h1.35v1.35h-1.35zM407 361h1.35v1.35h-1.35zM400 362h1.35v1.35h-1.35zM402 362h1.35v1.35h-1.35zM404 362h1.35v1.35h-1.35zM385 363h1.35v1.35h-1.35zM394 363h1.35v1.35h-1.35zM397 363h1.35v1.35h-1.35zM400 363h1.35v1.35h-1.35zM379 364h1.35v1.35h-1.35zM389 364h1.35v1.35h-1.35zM394 364h1.35v1.35h-1.35zM399 364h2.35v1.35h-2.35zM406 364h1.35v1.35h-1.35zM396 365h1.35v1.35h-1.35zM401 365h1.35v1.35h-1.35zM393 366h1.35v1.35h-1.35zM398 366h1.35v1.35h-1.35zM400 366h1.35v1.35h-1.35zM402 366h1.35v1.35h-1.35zM406 366h2.35v1.35h-2.35zM414 366h1.35v1.35h-1.35zM385 367h1.35v1.35h-1.35zM390 367h1.35v1.35h-1.35zM394 367h1.35v1.35h-1.35zM399 367h2.35v1.35h-2.35zM400 368h1.35v1.35h-1.35zM423 368h1.35v1.35h-1.35zM397 369h1.35v1.35h-1.35zM399 369h2.35v1.35h-2.35zM410 369h1.35v1.35h-1.35zM396 370h1.35v1.35h-1.35zM400 371h2.35v1.35h-2.35zM403 371h1.35v1.35h-1.35zM406 371h1.35v1.35h-1.35zM414 371h1.35v1.35h-1.35zM401 372h1.35v1.35h-1.35zM391 373h1.35v1.35h-1.35zM395 373h2.35v1.35h-2.35zM403 373h1.35v1.35h-1.35zM407 373h1.35v1.35h-1.35zM401 374h1.35v1.35h-1.35zM406 375h1.35v1.35h-1.35zM392 376h1.35v1.35h-1.35zM410 378h1.35v1.35h-1.35z" fill="#000"/>
<line x1="307.6" y1="308.67" x2="490.3" y2="308.67" stroke="#d06f98" stroke-width="2"/>
<line x1="422.67" y1="228.4" x2="422.67" y2="380.6" stroke="#d06f98" stroke-width="2"/>
<rect x="307.6" y="228.4" width="182.7" height="152.2" fill="none" stroke="#0f4e8c" stroke-width="1.8"/>
<path d="M301.3 228.4H307.6M490.3 380.6V386.9M301.3 380.6H307.6M307.6 380.6V386.9" stroke="#0f4e8c" stroke-width="1.8" fill="none"/>
<path d="M301.3 380.5H307.6M301.3 373.5H307.6M301.3 368.5H307.6M301.3 365.5H307.6M301.3 363.5H307.6M301.3 361.5H307.6M301.3 360.5H307.6M301.3 358.5H307.6M301.3 357.5H307.6M301.3 356.5H307.6M301.3 348.5H307.6M301.3 344.5H307.6M301.3 341.5H307.6M301.3 339.5H307.6M301.3 337.5H307.6M301.3 335.5H307.6M301.3 334.5H307.6M301.3 332.5H307.6M301.3 331.5H307.6M301.3 324.5H307.6M301.3 320.5H307.6M301.3 317.5H307.6M301.3 314.5H307.6M301.3 312.5H307.6M301.3 311.5H307.6M301.3 309.5H307.6M301.3 308.5H307.6M301.3 307.5H307.6M301.3 300.5H307.6M301.3 295.5H307.6M301.3 292.5H307.6M301.3 290.5H307.6M301.3 288.5H307.6M301.3 286.5H307.6M301.3 285.5H307.6M301.3 284.5H307.6M301.3 283.5H307.6M301.3 275.5H307.6M301.3 271.5H307.6M301.3 268.5H307.6M301.3 266.5H307.6M301.3 264.5H307.6M301.3 262.5H307.6M301.3 261.5H307.6M301.3 259.5H307.6M301.3 258.5H307.6M301.3 251.5H307.6M301.3 247.5H307.6M301.3 244.5H307.6M301.3 241.5H307.6M301.3 239.5H307.6M301.3 238.5H307.6M301.3 236.5H307.6M301.3 235.5H307.6M301.3 234.5H307.6" stroke="#0f4e8c" stroke-width="1.0" fill="none"/>
<path d="M307.5 380.6V386.9M316.5 380.6V386.9M321.5 380.6V386.9M325.5 380.6V386.9M328.5 380.6V386.9M330.5 380.6V386.9M332.5 380.6V386.9M334.5 380.6V386.9M335.5 380.6V386.9M337.5 380.6V386.9M345.5 380.6V386.9M351.5 380.6V386.9M354.5 380.6V386.9M357.5 380.6V386.9M359.5 380.6V386.9M361.5 380.6V386.9M363.5 380.6V386.9M365.5 380.6V386.9M366.5 380.6V386.9M375.5 380.6V386.9M380.5 380.6V386.9M384.5 380.6V386.9M387.5 380.6V386.9M389.5 380.6V386.9M391.5 380.6V386.9M393.5 380.6V386.9M394.5 380.6V386.9M396.5 380.6V386.9M404.5 380.6V386.9M410.5 380.6V386.9M413.5 380.6V386.9M416.5 380.6V386.9M418.5 380.6V386.9M420.5 380.6V386.9M422.5 380.6V386.9M424.5 380.6V386.9M425.5 380.6V386.9M434.5 380.6V386.9M439.5 380.6V386.9M443.5 380.6V386.9M446.5 380.6V386.9M448.5 380.6V386.9M450.5 380.6V386.9M452.5 380.6V386.9M453.5 380.6V386.9M454.5 380.6V386.9M463.5 380.6V386.9M468.5 380.6V386.9M472.5 380.6V386.9M475.5 380.6V386.9M477.5 380.6V386.9M479.5 380.6V386.9M481.5 380.6V386.9M483.5 380.6V386.9M484.5 380.6V386.9" stroke="#0f4e8c" stroke-width="1.25" fill="none"/>
<text x="295.4" y="383.6" font-size="10.8" text-anchor="end" fill="#0f4e8c">1</text>
<text x="289" y="387" font-size="6.6" textLength="6.4" lengthAdjust="spacingAndGlyphs" text-anchor="end" fill="#0f4e8c">10</text>
<text x="295.4" y="359.05" font-size="10.8" text-anchor="end" fill="#0f4e8c">2</text>
<text x="289" y="362.45" font-size="6.6" textLength="6.4" lengthAdjust="spacingAndGlyphs" text-anchor="end" fill="#0f4e8c">10</text>
<text x="295.4" y="334.5" font-size="10.8" text-anchor="end" fill="#0f4e8c">3</text>
<text x="289" y="337.9" font-size="6.6" textLength="6.4" lengthAdjust="spacingAndGlyphs" text-anchor="end" fill="#0f4e8c">10</text>
<text x="295.4" y="309.95" font-size="10.8" text-anchor="end" fill="#0f4e8c">4</text>
<text x="289" y="313.35" font-size="6.6" textLength="6.4" lengthAdjust="spacingAndGlyphs" text-anchor="end" fill="#0f4e8c">10</text>
<text x="295.4" y="285.41" font-size="10.8" text-anchor="end" fill="#0f4e8c">5</text>
<text x="289" y="288.81" font-size="6.6" textLength="6.4" lengthAdjust="spacingAndGlyphs" text-anchor="end" fill="#0f4e8c">10</text>
<text x="295.4" y="260.86" font-size="10.8" text-anchor="end" fill="#0f4e8c">6</text>
<text x="289" y="264.26" font-size="6.6" textLength="6.4" lengthAdjust="spacingAndGlyphs" text-anchor="end" fill="#0f4e8c">10</text>
<text x="295.4" y="235.6" font-size="10.8" text-anchor="end" fill="#0f4e8c">7.2</text>
<text x="280.3" y="239" font-size="6.6" textLength="6.4" lengthAdjust="spacingAndGlyphs" text-anchor="end" fill="#0f4e8c">10</text>
<text x="307.1" y="402.2" font-size="6.6" textLength="6.4" lengthAdjust="spacingAndGlyphs" text-anchor="end" fill="#0f4e8c">10</text>
<text x="306.9" y="398.6" font-size="10.8" fill="#0f4e8c">1</text>
<text x="336.55" y="402.2" font-size="6.6" textLength="6.4" lengthAdjust="spacingAndGlyphs" text-anchor="end" fill="#0f4e8c">10</text>
<text x="336.35" y="398.6" font-size="10.8" fill="#0f4e8c">2</text>
<text x="366.75" y="402.2" font-size="6.6" textLength="6.4" lengthAdjust="spacingAndGlyphs" text-anchor="end" fill="#0f4e8c">10</text>
<text x="366.55" y="398.6" font-size="10.8" fill="#0f4e8c">3</text>
<text x="397.05" y="402.2" font-size="6.6" textLength="6.4" lengthAdjust="spacingAndGlyphs" text-anchor="end" fill="#0f4e8c">10</text>
<text x="396.85" y="398.6" font-size="10.8" fill="#0f4e8c">4</text>
<text x="426.55" y="402.2" font-size="6.6" textLength="6.4" lengthAdjust="spacingAndGlyphs" text-anchor="end" fill="#0f4e8c">10</text>
<text x="426.35" y="398.6" font-size="10.8" fill="#0f4e8c">5</text>
<text x="456.55" y="402.2" font-size="6.6" textLength="6.4" lengthAdjust="spacingAndGlyphs" text-anchor="end" fill="#0f4e8c">10</text>
<text x="456.35" y="398.6" font-size="10.8" fill="#0f4e8c">6</text>
<text x="482.6" y="402.2" font-size="6.6" textLength="6.4" lengthAdjust="spacingAndGlyphs" text-anchor="end" fill="#0f4e8c">10</text>
<text x="482.4" y="398.6" font-size="10.8" fill="#0f4e8c">7.2</text>
<text x="373.5" y="417" font-size="13.8" textLength="52.5" lengthAdjust="spacingAndGlyphs">E selectin</text>
<text transform="translate(274.5 325.8) rotate(-90)" font-size="14.2" textLength="40.5" lengthAdjust="spacingAndGlyphs" fill="#231f20">VCAM1</text>
<text x="314.5" y="244.6" font-size="8.5" textLength="31.8" lengthAdjust="spacingAndGlyphs" fill="#1a1a1a">17 <tspan font-size="10.2">±</tspan> 1.2</text>
<text x="481.2" y="244.1" font-size="8.5" textLength="35.4" lengthAdjust="spacingAndGlyphs" text-anchor="end" fill="#1a1a1a">1.8 <tspan font-size="10.2">±</tspan> 0.1</text>
<text x="312.8" y="372.5" font-size="10.6" textLength="36.6" lengthAdjust="spacingAndGlyphs" fill="#1a1a1a">81 <tspan font-size="12.72">±</tspan> 1.2</text>
<text x="481.9" y="373.1" font-size="10" textLength="39.1" lengthAdjust="spacingAndGlyphs" text-anchor="end" fill="#1a1a1a">0.5 <tspan font-size="12">±</tspan> 0.1</text>
<text x="118.8" y="451.9" font-size="14" textLength="56.2" lengthAdjust="spacingAndGlyphs">Thrombin</text>
<path d="M177 490h1.35v1.35h-1.35zM168 491h1.35v1.35h-1.35zM180 493h1.35v1.35h-1.35zM204 496h1.35v1.35h-1.35zM174 500h1.35v1.35h-1.35zM178 500h1.35v1.35h-1.35zM183 500h1.35v1.35h-1.35zM186 500h1.35v1.35h-1.35zM200 500h1.35v1.35h-1.35zM207 500h1.35v1.35h-1.35zM176 501h1.35v1.35h-1.35zM207 501h1.35v1.35h-1.35zM174 502h1.35v1.35h-1.35zM180 502h2.35v1.35h-2.35zM173 503h1.35v1.35h-1.35zM177 503h2.35v1.35h-2.35zM186 503h1.35v1.35h-1.35zM190 503h1.35v1.35h-1.35zM164 504h1.35v1.35h-1.35zM173 504h1.35v1.35h-1.35zM177 504h1.35v1.35h-1.35zM192 504h1.35v1.35h-1.35zM174 505h1.35v1.35h-1.35zM181 505h1.35v1.35h-1.35zM183 505h1.35v1.35h-1.35zM186 505h1.35v1.35h-1.35zM153 506h1.35v1.35h-1.35zM179 506h1.35v1.35h-1.35zM182 506h1.35v1.35h-1.35zM188 506h1.35v1.35h-1.35zM160 507h1.35v1.35h-1.35zM180 507h1.35v1.35h-1.35zM182 507h1.35v1.35h-1.35zM166 508h1.35v1.35h-1.35zM175 508h1.35v1.35h-1.35zM182 508h1.35v1.35h-1.35zM191 508h1.35v1.35h-1.35zM151 509h1.35v1.35h-1.35zM154 509h3.35v1.35h-3.35zM161 509h1.35v1.35h-1.35zM167 509h1.35v1.35h-1.35zM171 509h2.35v1.35h-2.35zM154 510h1.35v1.35h-1.35zM161 510h2.35v1.35h-2.35zM196 510h1.35v1.35h-1.35zM198 510h1.35v1.35h-1.35zM158 511h1.35v1.35h-1.35zM162 511h3.35v1.35h-3.35zM168 511h1.35v1.35h-1.35zM170 511h4.35v1.35h-4.35zM177 511h1.35v1.35h-1.35zM183 511h1.35v1.35h-1.35zM191 511h2.35v1.35h-2.35zM194 511h1.35v1.35h-1.35zM150 512h1.35v1.35h-1.35zM157 512h2.35v1.35h-2.35zM160 512h1.35v1.35h-1.35zM162 512h1.35v1.35h-1.35zM164 512h1.35v1.35h-1.35zM171 512h1.35v1.35h-1.35zM173 512h3.35v1.35h-3.35zM191 512h1.35v1.35h-1.35zM193 512h1.35v1.35h-1.35zM157 513h2.35v1.35h-2.35zM160 513h1.35v1.35h-1.35zM162 513h1.35v1.35h-1.35zM164 513h1.35v1.35h-1.35zM168 513h2.35v1.35h-2.35zM174 513h2.35v1.35h-2.35zM179 513h1.35v1.35h-1.35zM182 513h2.35v1.35h-2.35zM192 513h3.35v1.35h-3.35zM142 514h1.35v1.35h-1.35zM150 514h1.35v1.35h-1.35zM153 514h5.35v1.35h-5.35zM159 514h1.35v1.35h-1.35zM162 514h1.35v1.35h-1.35zM164 514h1.35v1.35h-1.35zM167 514h3.35v1.35h-3.35zM173 514h1.35v1.35h-1.35zM177 514h2.35v1.35h-2.35zM182 514h1.35v1.35h-1.35zM185 514h2.35v1.35h-2.35zM194 514h1.35v1.35h-1.35zM196 514h1.35v1.35h-1.35zM151 515h1.35v1.35h-1.35zM153 515h3.35v1.35h-3.35zM157 515h7.35v1.35h-7.35zM166 515h1.35v1.35h-1.35zM170 515h1.35v1.35h-1.35zM174 515h2.35v1.35h-2.35zM179 515h2.35v1.35h-2.35zM191 515h1.35v1.35h-1.35zM154 516h2.35v1.35h-2.35zM159 516h1.35v1.35h-1.35zM161 516h1.35v1.35h-1.35zM164 516h4.35v1.35h-4.35zM170 516h2.35v1.35h-2.35zM173 516h3.35v1.35h-3.35zM178 516h1.35v1.35h-1.35zM180 516h1.35v1.35h-1.35zM183 516h1.35v1.35h-1.35zM150 517h2.35v1.35h-2.35zM153 517h1.35v1.35h-1.35zM156 517h2.35v1.35h-2.35zM159 517h7.35v1.35h-7.35zM167 517h2.35v1.35h-2.35zM170 517h1.35v1.35h-1.35zM173 517h1.35v1.35h-1.35zM175 517h2.35v1.35h-2.35zM179 517h1.35v1.35h-1.35zM181 517h1.35v1.35h-1.35zM187 517h2.35v1.35h-2.35zM194 517h1.35v1.35h-1.35zM212 517h1.35v1.35h-1.35zM151 518h3.35v1.35h-3.35zM156 518h2.35v1.35h-2.35zM160 518h6.35v1.35h-6.35zM167 518h2.35v1.35h-2.35zM170 518h1.35v1.35h-1.35zM179 518h1.35v1.35h-1.35zM182 518h1.35v1.35h-1.35zM191 518h1.35v1.35h-1.35zM195 518h1.35v1.35h-1.35zM151 519h1.35v1.35h-1.35zM153 519h3.35v1.35h-3.35zM162 519h1.35v1.35h-1.35zM164 519h2.35v1.35h-2.35zM168 519h1.35v1.35h-1.35zM175 519h2.35v1.35h-2.35zM184 519h1.35v1.35h-1.35zM142 520h1.35v1.35h-1.35zM145 520h1.35v1.35h-1.35zM147 520h1.35v1.35h-1.35zM149 520h6.35v1.35h-6.35zM156 520h1.35v1.35h-1.35zM158 520h1.35v1.35h-1.35zM160 520h1.35v1.35h-1.35zM162 520h5.35v1.35h-5.35zM168 520h3.35v1.35h-3.35zM172 520h2.35v1.35h-2.35zM176 520h1.35v1.35h-1.35zM183 520h1.35v1.35h-1.35zM187 520h1.35v1.35h-1.35zM148 521h2.35v1.35h-2.35zM153 521h2.35v1.35h-2.35zM156 521h5.35v1.35h-5.35zM162 521h2.35v1.35h-2.35zM166 521h6.35v1.35h-6.35zM173 521h2.35v1.35h-2.35zM181 521h2.35v1.35h-2.35zM185 521h3.35v1.35h-3.35zM193 521h1.35v1.35h-1.35zM195 521h1.35v1.35h-1.35zM143 522h1.35v1.35h-1.35zM146 522h2.35v1.35h-2.35zM149 522h1.35v1.35h-1.35zM151 522h1.35v1.35h-1.35zM153 522h1.35v1.35h-1.35zM155 522h4.35v1.35h-4.35zM163 522h7.35v1.35h-7.35zM173 522h1.35v1.35h-1.35zM180 522h2.35v1.35h-2.35zM183 522h4.35v1.35h-4.35zM188 522h1.35v1.35h-1.35zM193 522h1.35v1.35h-1.35zM128 523h1.35v1.35h-1.35zM145 523h1.35v1.35h-1.35zM148 523h3.35v1.35h-3.35zM152 523h1.35v1.35h-1.35zM154 523h1.35v1.35h-1.35zM156 523h1.35v1.35h-1.35zM159 523h3.35v1.35h-3.35zM163 523h4.35v1.35h-4.35zM169 523h1.35v1.35h-1.35zM171 523h1.35v1.35h-1.35zM176 523h1.35v1.35h-1.35zM185 523h1.35v1.35h-1.35zM188 523h2.35v1.35h-2.35zM196 523h1.35v1.35h-1.35zM199 523h1.35v1.35h-1.35zM144 524h1.35v1.35h-1.35zM147 524h1.35v1.35h-1.35zM149 524h3.35v1.35h-3.35zM153 524h2.35v1.35h-2.35zM156 524h5.35v1.35h-5.35zM162 524h1.35v1.35h-1.35zM166 524h1.35v1.35h-1.35zM168 524h4.35v1.35h-4.35zM174 524h1.35v1.35h-1.35zM178 524h1.35v1.35h-1.35zM181 524h1.35v1.35h-1.35zM183 524h1.35v1.35h-1.35zM186 524h1.35v1.35h-1.35zM188 524h1.35v1.35h-1.35zM194 524h1.35v1.35h-1.35zM200 524h1.35v1.35h-1.35zM145 525h1.35v1.35h-1.35zM149 525h4.35v1.35h-4.35zM156 525h3.35v1.35h-3.35zM160 525h2.35v1.35h-2.35zM164 525h8.35v1.35h-8.35zM176 525h3.35v1.35h-3.35zM182 525h1.35v1.35h-1.35zM184 525h1.35v1.35h-1.35zM187 525h2.35v1.35h-2.35zM197 525h2.35v1.35h-2.35zM142 526h1.35v1.35h-1.35zM144 526h1.35v1.35h-1.35zM146 526h3.35v1.35h-3.35zM150 526h2.35v1.35h-2.35zM160 526h1.35v1.35h-1.35zM162 526h1.35v1.35h-1.35zM165 526h6.35v1.35h-6.35zM172 526h2.35v1.35h-2.35zM177 526h1.35v1.35h-1.35zM179 526h1.35v1.35h-1.35zM182 526h1.35v1.35h-1.35zM185 526h1.35v1.35h-1.35zM137 527h1.35v1.35h-1.35zM144 527h3.35v1.35h-3.35zM148 527h1.35v1.35h-1.35zM150 527h3.35v1.35h-3.35zM156 527h1.35v1.35h-1.35zM158 527h1.35v1.35h-1.35zM160 527h1.35v1.35h-1.35zM164 527h2.35v1.35h-2.35zM168 527h6.35v1.35h-6.35zM183 527h1.35v1.35h-1.35zM189 527h1.35v1.35h-1.35zM191 527h1.35v1.35h-1.35zM143 528h2.35v1.35h-2.35zM146 528h2.35v1.35h-2.35zM149 528h6.35v1.35h-6.35zM156 528h1.35v1.35h-1.35zM158 528h3.35v1.35h-3.35zM162 528h2.35v1.35h-2.35zM165 528h1.35v1.35h-1.35zM168 528h1.35v1.35h-1.35zM171 528h1.35v1.35h-1.35zM174 528h1.35v1.35h-1.35zM176 528h1.35v1.35h-1.35zM182 528h1.35v1.35h-1.35zM185 528h1.35v1.35h-1.35zM193 528h1.35v1.35h-1.35zM145 529h2.35v1.35h-2.35zM148 529h3.35v1.35h-3.35zM153 529h4.35v1.35h-4.35zM158 529h2.35v1.35h-2.35zM161 529h1.35v1.35h-1.35zM163 529h5.35v1.35h-5.35zM170 529h1.35v1.35h-1.35zM172 529h1.35v1.35h-1.35zM174 529h1.35v1.35h-1.35zM179 529h1.35v1.35h-1.35zM187 529h1.35v1.35h-1.35zM145 530h5.35v1.35h-5.35zM151 530h7.35v1.35h-7.35zM159 530h3.35v1.35h-3.35zM163 530h4.35v1.35h-4.35zM168 530h3.35v1.35h-3.35zM180 530h1.35v1.35h-1.35zM185 530h1.35v1.35h-1.35zM191 530h1.35v1.35h-1.35zM145 531h2.35v1.35h-2.35zM148 531h2.35v1.35h-2.35zM151 531h3.35v1.35h-3.35zM155 531h3.35v1.35h-3.35zM161 531h4.35v1.35h-4.35zM167 531h1.35v1.35h-1.35zM170 531h1.35v1.35h-1.35zM173 531h1.35v1.35h-1.35zM175 531h1.35v1.35h-1.35zM180 531h2.35v1.35h-2.35zM187 531h1.35v1.35h-1.35zM192 531h1.35v1.35h-1.35zM206 531h1.35v1.35h-1.35zM143 532h1.35v1.35h-1.35zM145 532h3.35v1.35h-3.35zM150 532h5.35v1.35h-5.35zM156 532h1.35v1.35h-1.35zM158 532h8.35v1.35h-8.35zM167 532h4.35v1.35h-4.35zM174 532h1.35v1.35h-1.35zM178 532h1.35v1.35h-1.35zM180 532h1.35v1.35h-1.35zM195 532h1.35v1.35h-1.35zM141 533h1.35v1.35h-1.35zM144 533h3.35v1.35h-3.35zM148 533h5.35v1.35h-5.35zM154 533h1.35v1.35h-1.35zM156 533h1.35v1.35h-1.35zM158 533h6.35v1.35h-6.35zM165 533h2.35v1.35h-2.35zM170 533h1.35v1.35h-1.35zM175 533h2.35v1.35h-2.35zM178 533h1.35v1.35h-1.35zM181 533h2.35v1.35h-2.35zM189 533h2.35v1.35h-2.35zM144 534h1.35v1.35h-1.35zM146 534h1.35v1.35h-1.35zM148 534h5.35v1.35h-5.35zM156 534h1.35v1.35h-1.35zM158 534h2.35v1.35h-2.35zM161 534h7.35v1.35h-7.35zM199 534h1.35v1.35h-1.35zM206 534h1.35v1.35h-1.35zM141 535h1.35v1.35h-1.35zM145 535h1.35v1.35h-1.35zM148 535h9.35v1.35h-9.35zM158 535h3.35v1.35h-3.35zM162 535h3.35v1.35h-3.35zM167 535h1.35v1.35h-1.35zM170 535h2.35v1.35h-2.35zM173 535h1.35v1.35h-1.35zM179 535h1.35v1.35h-1.35zM183 535h1.35v1.35h-1.35zM185 535h1.35v1.35h-1.35zM205 535h1.35v1.35h-1.35zM137 536h1.35v1.35h-1.35zM143 536h11.35v1.35h-11.35zM155 536h6.35v1.35h-6.35zM162 536h1.35v1.35h-1.35zM164 536h1.35v1.35h-1.35zM166 536h7.35v1.35h-7.35zM175 536h2.35v1.35h-2.35zM185 536h1.35v1.35h-1.35zM189 536h2.35v1.35h-2.35zM134 537h1.35v1.35h-1.35zM141 537h1.35v1.35h-1.35zM143 537h6.35v1.35h-6.35zM150 537h3.35v1.35h-3.35zM154 537h10.35v1.35h-10.35zM166 537h1.35v1.35h-1.35zM168 537h3.35v1.35h-3.35zM172 537h2.35v1.35h-2.35zM181 537h1.35v1.35h-1.35zM144 538h3.35v1.35h-3.35zM148 538h2.35v1.35h-2.35zM151 538h3.35v1.35h-3.35zM155 538h4.35v1.35h-4.35zM160 538h2.35v1.35h-2.35zM163 538h2.35v1.35h-2.35zM166 538h2.35v1.35h-2.35zM171 538h1.35v1.35h-1.35zM188 538h1.35v1.35h-1.35zM140 539h3.35v1.35h-3.35zM145 539h2.35v1.35h-2.35zM150 539h7.35v1.35h-7.35zM158 539h12.35v1.35h-12.35zM171 539h3.35v1.35h-3.35zM209 539h1.35v1.35h-1.35zM127 540h1.35v1.35h-1.35zM143 540h2.35v1.35h-2.35zM148 540h5.35v1.35h-5.35zM155 540h3.35v1.35h-3.35zM159 540h4.35v1.35h-4.35zM164 540h2.35v1.35h-2.35zM167 540h2.35v1.35h-2.35zM170 540h2.35v1.35h-2.35zM174 540h1.35v1.35h-1.35zM177 540h1.35v1.35h-1.35zM196 540h1.35v1.35h-1.35zM141 541h1.35v1.35h-1.35zM144 541h8.35v1.35h-8.35zM153 541h3.35v1.35h-3.35zM159 541h2.35v1.35h-2.35zM162 541h3.35v1.35h-3.35zM166 541h4.35v1.35h-4.35zM171 541h2.35v1.35h-2.35zM140 542h1.35v1.35h-1.35zM147 542h1.35v1.35h-1.35zM149 542h2.35v1.35h-2.35zM152 542h12.35v1.35h-12.35zM165 542h1.35v1.35h-1.35zM168 542h2.35v1.35h-2.35zM171 542h1.35v1.35h-1.35zM173 542h2.35v1.35h-2.35zM188 542h1.35v1.35h-1.35zM144 543h2.35v1.35h-2.35zM149 543h13.35v1.35h-13.35zM163 543h1.35v1.35h-1.35zM165 543h3.35v1.35h-3.35zM173 543h1.35v1.35h-1.35zM178 543h1.35v1.35h-1.35zM185 543h1.35v1.35h-1.35zM145 544h5.35v1.35h-5.35zM151 544h8.35v1.35h-8.35zM160 544h5.35v1.35h-5.35zM168 544h3.35v1.35h-3.35zM180 544h1.35v1.35h-1.35zM118 545h1.35v1.35h-1.35zM138 545h1.35v1.35h-1.35zM141 545h2.35v1.35h-2.35zM144 545h1.35v1.35h-1.35zM146 545h1.35v1.35h-1.35zM149 545h10.35v1.35h-10.35zM160 545h6.35v1.35h-6.35zM167 545h4.35v1.35h-4.35zM173 545h1.35v1.35h-1.35zM177 545h1.35v1.35h-1.35zM197 545h1.35v1.35h-1.35zM143 546h1.35v1.35h-1.35zM147 546h7.35v1.35h-7.35zM155 546h1.35v1.35h-1.35zM157 546h2.35v1.35h-2.35zM160 546h1.35v1.35h-1.35zM164 546h3.35v1.35h-3.35zM168 546h2.35v1.35h-2.35zM172 546h1.35v1.35h-1.35zM176 546h1.35v1.35h-1.35zM191 546h1.35v1.35h-1.35zM141 547h2.35v1.35h-2.35zM145 547h4.35v1.35h-4.35zM151 547h4.35v1.35h-4.35zM157 547h11.35v1.35h-11.35zM169 547h2.35v1.35h-2.35zM172 547h1.35v1.35h-1.35zM177 547h1.35v1.35h-1.35zM143 548h7.35v1.35h-7.35zM151 548h2.35v1.35h-2.35zM154 548h1.35v1.35h-1.35zM156 548h2.35v1.35h-2.35zM159 548h5.35v1.35h-5.35zM165 548h6.35v1.35h-6.35zM177 548h1.35v1.35h-1.35zM137 549h1.35v1.35h-1.35zM143 549h26.35v1.35h-26.35zM170 549h2.35v1.35h-2.35zM174 549h1.35v1.35h-1.35zM135 550h1.35v1.35h-1.35zM144 550h26.35v1.35h-26.35zM171 550h1.35v1.35h-1.35zM134 551h1.35v1.35h-1.35zM142 551h28.35v1.35h-28.35zM172 551h1.35v1.35h-1.35zM174 551h1.35v1.35h-1.35zM132 552h1.35v1.35h-1.35zM139 552h2.35v1.35h-2.35zM144 552h26.35v1.35h-26.35zM133 553h1.35v1.35h-1.35zM137 553h1.35v1.35h-1.35zM143 553h29.35v1.35h-29.35zM174 553h1.35v1.35h-1.35zM182 553h1.35v1.35h-1.35zM139 554h1.35v1.35h-1.35zM142 554h28.35v1.35h-28.35zM140 555h32.35v1.35h-32.35zM173 555h1.35v1.35h-1.35zM142 556h27.35v1.35h-27.35zM171 556h1.35v1.35h-1.35zM138 557h1.35v1.35h-1.35zM140 557h1.35v1.35h-1.35zM142 557h28.35v1.35h-28.35zM125 558h1.35v1.35h-1.35zM140 558h29.35v1.35h-29.35zM172 558h1.35v1.35h-1.35zM174 558h1.35v1.35h-1.35zM140 559h30.35v1.35h-30.35zM171 559h1.35v1.35h-1.35zM139 560h1.35v1.35h-1.35zM141 560h28.35v1.35h-28.35zM134 561h1.35v1.35h-1.35zM139 561h1.35v1.35h-1.35zM141 561h26.35v1.35h-26.35zM168 561h2.35v1.35h-2.35zM142 562h26.35v1.35h-26.35zM173 562h1.35v1.35h-1.35zM139 563h28.35v1.35h-28.35zM137 564h1.35v1.35h-1.35zM140 564h1.35v1.35h-1.35zM142 564h24.35v1.35h-24.35zM176 564h1.35v1.35h-1.35zM132 565h1.35v1.35h-1.35zM141 565h25.35v1.35h-25.35zM168 565h1.35v1.35h-1.35zM172 565h1.35v1.35h-1.35zM140 566h27.35v1.35h-27.35zM173 566h1.35v1.35h-1.35zM141 567h24.35v1.35h-24.35zM140 568h1.35v1.35h-1.35zM142 568h22.35v1.35h-22.35zM165 568h1.35v1.35h-1.35zM141 569h23.35v1.35h-23.35zM130 570h1.35v1.35h-1.35zM141 570h23.35v1.35h-23.35zM130 571h1.35v1.35h-1.35zM141 571h23.35v1.35h-23.35zM113 572h1.35v1.35h-1.35zM135 572h1.35v1.35h-1.35zM140 572h22.35v1.35h-22.35zM163 572h2.35v1.35h-2.35zM141 573h1.35v1.35h-1.35zM143 573h19.35v1.35h-19.35zM164 573h1.35v1.35h-1.35zM136 574h1.35v1.35h-1.35zM140 574h1.35v1.35h-1.35zM142 574h1.35v1.35h-1.35zM144 574h18.35v1.35h-18.35zM163 574h1.35v1.35h-1.35zM143 575h18.35v1.35h-18.35zM141 576h1.35v1.35h-1.35zM143 576h16.35v1.35h-16.35zM119 577h1.35v1.35h-1.35zM123 577h1.35v1.35h-1.35zM143 577h17.35v1.35h-17.35zM162 577h1.35v1.35h-1.35zM164 577h1.35v1.35h-1.35zM166 577h1.35v1.35h-1.35zM91 578h1.35v1.35h-1.35zM126 578h1.35v1.35h-1.35zM136 578h1.35v1.35h-1.35zM140 578h1.35v1.35h-1.35zM144 578h15.35v1.35h-15.35zM162 578h1.35v1.35h-1.35zM126 579h1.35v1.35h-1.35zM143 579h15.35v1.35h-15.35zM143 580h1.35v1.35h-1.35zM145 580h1.35v1.35h-1.35zM147 580h10.35v1.35h-10.35zM162 580h1.35v1.35h-1.35zM126 581h1.35v1.35h-1.35zM145 581h12.35v1.35h-12.35zM188 581h1.35v1.35h-1.35zM134 582h2.35v1.35h-2.35zM145 582h8.35v1.35h-8.35zM154 582h2.35v1.35h-2.35zM158 582h1.35v1.35h-1.35zM146 583h1.35v1.35h-1.35zM149 583h1.35v1.35h-1.35zM156 583h1.35v1.35h-1.35zM182 583h1.35v1.35h-1.35zM143 584h1.35v1.35h-1.35zM146 584h2.35v1.35h-2.35zM154 584h3.35v1.35h-3.35zM159 584h1.35v1.35h-1.35zM151 585h2.35v1.35h-2.35zM155 585h1.35v1.35h-1.35zM159 585h1.35v1.35h-1.35zM189 585h1.35v1.35h-1.35zM145 586h3.35v1.35h-3.35zM157 586h1.35v1.35h-1.35zM159 586h1.35v1.35h-1.35zM141 587h1.35v1.35h-1.35zM151 587h1.35v1.35h-1.35zM153 587h1.35v1.35h-1.35zM155 587h1.35v1.35h-1.35zM153 588h1.35v1.35h-1.35zM157 588h2.35v1.35h-2.35zM146 589h1.35v1.35h-1.35zM151 589h2.35v1.35h-2.35zM154 589h1.35v1.35h-1.35zM156 589h1.35v1.35h-1.35zM136 590h1.35v1.35h-1.35zM147 590h1.35v1.35h-1.35zM149 590h3.35v1.35h-3.35zM153 590h1.35v1.35h-1.35zM161 590h1.35v1.35h-1.35zM163 590h1.35v1.35h-1.35zM133 591h1.35v1.35h-1.35zM140 591h1.35v1.35h-1.35zM143 591h1.35v1.35h-1.35zM149 591h3.35v1.35h-3.35zM153 591h1.35v1.35h-1.35zM157 591h1.35v1.35h-1.35zM134 592h1.35v1.35h-1.35zM139 592h1.35v1.35h-1.35zM145 592h1.35v1.35h-1.35zM151 592h1.35v1.35h-1.35zM155 592h1.35v1.35h-1.35zM158 592h1.35v1.35h-1.35zM153 593h1.35v1.35h-1.35zM156 593h1.35v1.35h-1.35zM161 593h1.35v1.35h-1.35zM166 593h1.35v1.35h-1.35zM142 594h1.35v1.35h-1.35zM148 594h2.35v1.35h-2.35zM151 594h1.35v1.35h-1.35zM156 594h1.35v1.35h-1.35zM146 595h1.35v1.35h-1.35zM151 597h1.35v1.35h-1.35zM153 598h1.35v1.35h-1.35zM138 599h1.35v1.35h-1.35zM142 600h1.35v1.35h-1.35zM148 600h1.35v1.35h-1.35zM152 600h1.35v1.35h-1.35zM152 601h1.35v1.35h-1.35zM157 601h1.35v1.35h-1.35zM168 601h1.35v1.35h-1.35zM182 601h1.35v1.35h-1.35zM137 602h1.35v1.35h-1.35zM153 603h1.35v1.35h-1.35zM144 604h1.35v1.35h-1.35zM147 605h1.35v1.35h-1.35zM149 605h1.35v1.35h-1.35zM153 606h1.35v1.35h-1.35zM158 606h1.35v1.35h-1.35zM147 607h2.35v1.35h-2.35zM156 607h1.35v1.35h-1.35zM150 608h1.35v1.35h-1.35zM142 609h1.35v1.35h-1.35zM145 609h1.35v1.35h-1.35zM153 609h1.35v1.35h-1.35zM161 610h1.35v1.35h-1.35zM168 613h1.35v1.35h-1.35zM146 614h1.35v1.35h-1.35zM146 616h1.35v1.35h-1.35zM147 617h1.35v1.35h-1.35z" fill="#000"/>
<line x1="55" y1="548.47" x2="237.8" y2="548.47" stroke="#d06f98" stroke-width="2"/>
<line x1="170.43" y1="467" x2="170.43" y2="619.6" stroke="#d06f98" stroke-width="2"/>
<rect x="55" y="467" width="182.8" height="152.6" fill="none" stroke="#0f4e8c" stroke-width="1.8"/>
<path d="M48.7 467H55M237.8 619.6V625.9M48.7 619.6H55M55 619.6V625.9" stroke="#0f4e8c" stroke-width="1.8" fill="none"/>
<path d="M48.7 619.5H55M48.7 612.5H55M48.7 607.5H55M48.7 604.5H55M48.7 602.5H55M48.7 600.5H55M48.7 598.5H55M48.7 597.5H55M48.7 596.5H55M48.7 595.5H55M48.7 587.5H55M48.7 583.5H55M48.7 580.5H55M48.7 578.5H55M48.7 576.5H55M48.7 574.5H55M48.7 573.5H55M48.7 571.5H55M48.7 570.5H55M48.7 563.5H55M48.7 559.5H55M48.7 556.5H55M48.7 553.5H55M48.7 551.5H55M48.7 550.5H55M48.7 548.5H55M48.7 547.5H55M48.7 546.5H55M48.7 538.5H55M48.7 534.5H55M48.7 531.5H55M48.7 529.5H55M48.7 527.5H55M48.7 525.5H55M48.7 524.5H55M48.7 522.5H55M48.7 521.5H55M48.7 514.5H55M48.7 510.5H55M48.7 507.5H55M48.7 504.5H55M48.7 502.5H55M48.7 501.5H55M48.7 499.5H55M48.7 498.5H55M48.7 497.5H55M48.7 490.5H55M48.7 485.5H55M48.7 482.5H55M48.7 480.5H55M48.7 478.5H55M48.7 476.5H55M48.7 475.5H55M48.7 474.5H55M48.7 473.5H55" stroke="#0f4e8c" stroke-width="1.0" fill="none"/>
<path d="M55.5 619.6V625.9M63.5 619.6V625.9M69.5 619.6V625.9M72.5 619.6V625.9M75.5 619.6V625.9M77.5 619.6V625.9M79.5 619.6V625.9M81.5 619.6V625.9M83.5 619.6V625.9M84.5 619.6V625.9M93.5 619.6V625.9M98.5 619.6V625.9M102.5 619.6V625.9M105.5 619.6V625.9M107.5 619.6V625.9M109.5 619.6V625.9M111.5 619.6V625.9M112.5 619.6V625.9M113.5 619.6V625.9M122.5 619.6V625.9M128.5 619.6V625.9M131.5 619.6V625.9M134.5 619.6V625.9M136.5 619.6V625.9M138.5 619.6V625.9M140.5 619.6V625.9M142.5 619.6V625.9M143.5 619.6V625.9M152.5 619.6V625.9M157.5 619.6V625.9M161.5 619.6V625.9M164.5 619.6V625.9M166.5 619.6V625.9M168.5 619.6V625.9M170.5 619.6V625.9M171.5 619.6V625.9M172.5 619.6V625.9M181.5 619.6V625.9M187.5 619.6V625.9M190.5 619.6V625.9M193.5 619.6V625.9M195.5 619.6V625.9M197.5 619.6V625.9M199.5 619.6V625.9M201.5 619.6V625.9M202.5 619.6V625.9M211.5 619.6V625.9M216.5 619.6V625.9M220.5 619.6V625.9M223.5 619.6V625.9M225.5 619.6V625.9M227.5 619.6V625.9M229.5 619.6V625.9M230.5 619.6V625.9M231.5 619.6V625.9" stroke="#0f4e8c" stroke-width="1.25" fill="none"/>
<text x="42.8" y="622.6" font-size="10.8" text-anchor="end" fill="#0f4e8c">1</text>
<text x="36.4" y="626" font-size="6.6" textLength="6.4" lengthAdjust="spacingAndGlyphs" text-anchor="end" fill="#0f4e8c">10</text>
<text x="42.8" y="597.99" font-size="10.8" text-anchor="end" fill="#0f4e8c">2</text>
<text x="36.4" y="601.39" font-size="6.6" textLength="6.4" lengthAdjust="spacingAndGlyphs" text-anchor="end" fill="#0f4e8c">10</text>
<text x="42.8" y="573.37" font-size="10.8" text-anchor="end" fill="#0f4e8c">3</text>
<text x="36.4" y="576.77" font-size="6.6" textLength="6.4" lengthAdjust="spacingAndGlyphs" text-anchor="end" fill="#0f4e8c">10</text>
<text x="42.8" y="548.76" font-size="10.8" text-anchor="end" fill="#0f4e8c">4</text>
<text x="36.4" y="552.16" font-size="6.6" textLength="6.4" lengthAdjust="spacingAndGlyphs" text-anchor="end" fill="#0f4e8c">10</text>
<text x="42.8" y="524.15" font-size="10.8" text-anchor="end" fill="#0f4e8c">5</text>
<text x="36.4" y="527.55" font-size="6.6" textLength="6.4" lengthAdjust="spacingAndGlyphs" text-anchor="end" fill="#0f4e8c">10</text>
<text x="42.8" y="499.54" font-size="10.8" text-anchor="end" fill="#0f4e8c">6</text>
<text x="36.4" y="502.94" font-size="6.6" textLength="6.4" lengthAdjust="spacingAndGlyphs" text-anchor="end" fill="#0f4e8c">10</text>
<text x="42.8" y="474.2" font-size="10.8" text-anchor="end" fill="#0f4e8c">7.2</text>
<text x="27.7" y="477.6" font-size="6.6" textLength="6.4" lengthAdjust="spacingAndGlyphs" text-anchor="end" fill="#0f4e8c">10</text>
<text x="54.5" y="641.2" font-size="6.6" textLength="6.4" lengthAdjust="spacingAndGlyphs" text-anchor="end" fill="#0f4e8c">10</text>
<text x="54.3" y="637.6" font-size="10.8" fill="#0f4e8c">1</text>
<text x="83.95" y="641.2" font-size="6.6" textLength="6.4" lengthAdjust="spacingAndGlyphs" text-anchor="end" fill="#0f4e8c">10</text>
<text x="83.75" y="637.6" font-size="10.8" fill="#0f4e8c">2</text>
<text x="114.15" y="641.2" font-size="6.6" textLength="6.4" lengthAdjust="spacingAndGlyphs" text-anchor="end" fill="#0f4e8c">10</text>
<text x="113.95" y="637.6" font-size="10.8" fill="#0f4e8c">3</text>
<text x="144.45" y="641.2" font-size="6.6" textLength="6.4" lengthAdjust="spacingAndGlyphs" text-anchor="end" fill="#0f4e8c">10</text>
<text x="144.25" y="637.6" font-size="10.8" fill="#0f4e8c">4</text>
<text x="173.95" y="641.2" font-size="6.6" textLength="6.4" lengthAdjust="spacingAndGlyphs" text-anchor="end" fill="#0f4e8c">10</text>
<text x="173.75" y="637.6" font-size="10.8" fill="#0f4e8c">5</text>
<text x="203.95" y="641.2" font-size="6.6" textLength="6.4" lengthAdjust="spacingAndGlyphs" text-anchor="end" fill="#0f4e8c">10</text>
<text x="203.75" y="637.6" font-size="10.8" fill="#0f4e8c">6</text>
<text x="230" y="641.2" font-size="6.6" textLength="6.4" lengthAdjust="spacingAndGlyphs" text-anchor="end" fill="#0f4e8c">10</text>
<text x="229.8" y="637.6" font-size="10.8" fill="#0f4e8c">7.2</text>
<text x="121.2" y="656.5" font-size="13.8" textLength="53.4" lengthAdjust="spacingAndGlyphs">E selectin</text>
<text transform="translate(19.5 565.3) rotate(-90)" font-size="14.2" textLength="40" lengthAdjust="spacingAndGlyphs" fill="#231f20">VCAM1</text>
<text x="64.2" y="485.1" font-size="8.8" textLength="33.6" lengthAdjust="spacingAndGlyphs" fill="#1a1a1a">13 <tspan font-size="10.56">±</tspan> 0.8</text>
<text x="228.8" y="485.6" font-size="8.8" textLength="35.8" lengthAdjust="spacingAndGlyphs" text-anchor="end" fill="#1a1a1a">5.6 <tspan font-size="10.56">±</tspan> 0.2</text>
<text x="64.4" y="611.8" font-size="9.3" textLength="33.9" lengthAdjust="spacingAndGlyphs" fill="#1a1a1a">80 <tspan font-size="11.16">±</tspan> 0.6</text>
<text x="229.6" y="612.1" font-size="10.5" textLength="30.7" lengthAdjust="spacingAndGlyphs" text-anchor="end" fill="#1a1a1a">2 <tspan font-size="12.6">±</tspan> 0.3</text>
<text x="340.2" y="451.7" font-size="14" textLength="116.3" lengthAdjust="spacingAndGlyphs">Poly I:C +Thrombin</text>
<path d="M453 498h1.35v1.35h-1.35zM433 499h1.35v1.35h-1.35zM439 499h1.35v1.35h-1.35zM458 499h1.35v1.35h-1.35zM435 500h1.35v1.35h-1.35zM446 500h1.35v1.35h-1.35zM455 500h1.35v1.35h-1.35zM412 501h1.35v1.35h-1.35zM421 501h1.35v1.35h-1.35zM441 501h2.35v1.35h-2.35zM444 501h1.35v1.35h-1.35zM459 501h1.35v1.35h-1.35zM442 502h1.35v1.35h-1.35zM444 502h1.35v1.35h-1.35zM446 502h2.35v1.35h-2.35zM420 503h1.35v1.35h-1.35zM423 503h2.35v1.35h-2.35zM428 503h1.35v1.35h-1.35zM432 503h1.35v1.35h-1.35zM437 503h1.35v1.35h-1.35zM439 503h1.35v1.35h-1.35zM452 503h1.35v1.35h-1.35zM456 503h2.35v1.35h-2.35zM423 504h1.35v1.35h-1.35zM425 504h1.35v1.35h-1.35zM428 504h2.35v1.35h-2.35zM433 504h1.35v1.35h-1.35zM438 504h1.35v1.35h-1.35zM440 504h2.35v1.35h-2.35zM444 504h1.35v1.35h-1.35zM449 504h1.35v1.35h-1.35zM452 504h3.35v1.35h-3.35zM457 504h1.35v1.35h-1.35zM463 504h1.35v1.35h-1.35zM424 505h1.35v1.35h-1.35zM427 505h2.35v1.35h-2.35zM431 505h1.35v1.35h-1.35zM435 505h1.35v1.35h-1.35zM439 505h1.35v1.35h-1.35zM443 505h1.35v1.35h-1.35zM445 505h1.35v1.35h-1.35zM448 505h1.35v1.35h-1.35zM452 505h3.35v1.35h-3.35zM460 505h1.35v1.35h-1.35zM422 506h2.35v1.35h-2.35zM427 506h2.35v1.35h-2.35zM430 506h1.35v1.35h-1.35zM432 506h1.35v1.35h-1.35zM435 506h1.35v1.35h-1.35zM437 506h1.35v1.35h-1.35zM440 506h6.35v1.35h-6.35zM450 506h4.35v1.35h-4.35zM457 506h1.35v1.35h-1.35zM416 507h2.35v1.35h-2.35zM421 507h2.35v1.35h-2.35zM426 507h3.35v1.35h-3.35zM432 507h1.35v1.35h-1.35zM434 507h2.35v1.35h-2.35zM437 507h1.35v1.35h-1.35zM440 507h1.35v1.35h-1.35zM443 507h2.35v1.35h-2.35zM447 507h1.35v1.35h-1.35zM452 507h2.35v1.35h-2.35zM455 507h2.35v1.35h-2.35zM464 507h1.35v1.35h-1.35zM418 508h1.35v1.35h-1.35zM420 508h4.35v1.35h-4.35zM426 508h3.35v1.35h-3.35zM431 508h1.35v1.35h-1.35zM434 508h1.35v1.35h-1.35zM436 508h1.35v1.35h-1.35zM438 508h5.35v1.35h-5.35zM444 508h3.35v1.35h-3.35zM417 509h1.35v1.35h-1.35zM421 509h3.35v1.35h-3.35zM425 509h1.35v1.35h-1.35zM428 509h3.35v1.35h-3.35zM432 509h2.35v1.35h-2.35zM436 509h1.35v1.35h-1.35zM441 509h2.35v1.35h-2.35zM445 509h2.35v1.35h-2.35zM448 509h1.35v1.35h-1.35zM452 509h2.35v1.35h-2.35zM460 509h1.35v1.35h-1.35zM410 510h1.35v1.35h-1.35zM413 510h1.35v1.35h-1.35zM417 510h1.35v1.35h-1.35zM420 510h1.35v1.35h-1.35zM423 510h1.35v1.35h-1.35zM427 510h1.35v1.35h-1.35zM429 510h1.35v1.35h-1.35zM433 510h4.35v1.35h-4.35zM446 510h2.35v1.35h-2.35zM449 510h4.35v1.35h-4.35zM454 510h3.35v1.35h-3.35zM459 510h1.35v1.35h-1.35zM413 511h1.35v1.35h-1.35zM415 511h1.35v1.35h-1.35zM420 511h3.35v1.35h-3.35zM424 511h1.35v1.35h-1.35zM426 511h2.35v1.35h-2.35zM429 511h2.35v1.35h-2.35zM435 511h1.35v1.35h-1.35zM438 511h3.35v1.35h-3.35zM442 511h1.35v1.35h-1.35zM447 511h1.35v1.35h-1.35zM450 511h1.35v1.35h-1.35zM452 511h2.35v1.35h-2.35zM455 511h1.35v1.35h-1.35zM414 512h1.35v1.35h-1.35zM420 512h1.35v1.35h-1.35zM422 512h1.35v1.35h-1.35zM424 512h1.35v1.35h-1.35zM431 512h2.35v1.35h-2.35zM436 512h2.35v1.35h-2.35zM440 512h1.35v1.35h-1.35zM445 512h3.35v1.35h-3.35zM449 512h1.35v1.35h-1.35zM452 512h1.35v1.35h-1.35zM454 512h1.35v1.35h-1.35zM415 513h2.35v1.35h-2.35zM419 513h1.35v1.35h-1.35zM422 513h2.35v1.35h-2.35zM426 513h5.35v1.35h-5.35zM432 513h1.35v1.35h-1.35zM434 513h2.35v1.35h-2.35zM438 513h1.35v1.35h-1.35zM440 513h1.35v1.35h-1.35zM442 513h2.35v1.35h-2.35zM446 513h4.35v1.35h-4.35zM451 513h1.35v1.35h-1.35zM453 513h1.35v1.35h-1.35zM405 514h1.35v1.35h-1.35zM411 514h1.35v1.35h-1.35zM415 514h1.35v1.35h-1.35zM417 514h1.35v1.35h-1.35zM420 514h4.35v1.35h-4.35zM425 514h1.35v1.35h-1.35zM427 514h1.35v1.35h-1.35zM429 514h1.35v1.35h-1.35zM431 514h1.35v1.35h-1.35zM433 514h2.35v1.35h-2.35zM440 514h1.35v1.35h-1.35zM443 514h5.35v1.35h-5.35zM453 514h2.35v1.35h-2.35zM411 515h1.35v1.35h-1.35zM414 515h1.35v1.35h-1.35zM419 515h3.35v1.35h-3.35zM426 515h1.35v1.35h-1.35zM432 515h1.35v1.35h-1.35zM434 515h1.35v1.35h-1.35zM439 515h2.35v1.35h-2.35zM443 515h1.35v1.35h-1.35zM449 515h1.35v1.35h-1.35zM451 515h1.35v1.35h-1.35zM453 515h2.35v1.35h-2.35zM414 516h1.35v1.35h-1.35zM416 516h1.35v1.35h-1.35zM418 516h3.35v1.35h-3.35zM422 516h1.35v1.35h-1.35zM424 516h2.35v1.35h-2.35zM429 516h3.35v1.35h-3.35zM434 516h1.35v1.35h-1.35zM438 516h1.35v1.35h-1.35zM447 516h2.35v1.35h-2.35zM450 516h2.35v1.35h-2.35zM453 516h2.35v1.35h-2.35zM413 517h3.35v1.35h-3.35zM419 517h1.35v1.35h-1.35zM424 517h3.35v1.35h-3.35zM429 517h2.35v1.35h-2.35zM432 517h1.35v1.35h-1.35zM434 517h4.35v1.35h-4.35zM441 517h4.35v1.35h-4.35zM447 517h1.35v1.35h-1.35zM449 517h1.35v1.35h-1.35zM451 517h1.35v1.35h-1.35zM453 517h1.35v1.35h-1.35zM456 517h1.35v1.35h-1.35zM459 517h1.35v1.35h-1.35zM405 518h1.35v1.35h-1.35zM407 518h1.35v1.35h-1.35zM409 518h1.35v1.35h-1.35zM414 518h2.35v1.35h-2.35zM418 518h1.35v1.35h-1.35zM421 518h1.35v1.35h-1.35zM423 518h1.35v1.35h-1.35zM425 518h3.35v1.35h-3.35zM429 518h2.35v1.35h-2.35zM432 518h3.35v1.35h-3.35zM437 518h1.35v1.35h-1.35zM444 518h1.35v1.35h-1.35zM446 518h1.35v1.35h-1.35zM448 518h1.35v1.35h-1.35zM410 519h1.35v1.35h-1.35zM413 519h1.35v1.35h-1.35zM416 519h1.35v1.35h-1.35zM418 519h1.35v1.35h-1.35zM421 519h1.35v1.35h-1.35zM423 519h1.35v1.35h-1.35zM425 519h1.35v1.35h-1.35zM427 519h1.35v1.35h-1.35zM430 519h1.35v1.35h-1.35zM432 519h4.35v1.35h-4.35zM440 519h2.35v1.35h-2.35zM444 519h1.35v1.35h-1.35zM446 519h1.35v1.35h-1.35zM451 519h3.35v1.35h-3.35zM406 520h3.35v1.35h-3.35zM410 520h2.35v1.35h-2.35zM415 520h1.35v1.35h-1.35zM417 520h2.35v1.35h-2.35zM420 520h2.35v1.35h-2.35zM425 520h4.35v1.35h-4.35zM430 520h2.35v1.35h-2.35zM433 520h1.35v1.35h-1.35zM435 520h1.35v1.35h-1.35zM438 520h1.35v1.35h-1.35zM440 520h3.35v1.35h-3.35zM444 520h3.35v1.35h-3.35zM448 520h1.35v1.35h-1.35zM408 521h2.35v1.35h-2.35zM411 521h3.35v1.35h-3.35zM416 521h3.35v1.35h-3.35zM423 521h1.35v1.35h-1.35zM425 521h2.35v1.35h-2.35zM430 521h1.35v1.35h-1.35zM432 521h1.35v1.35h-1.35zM434 521h1.35v1.35h-1.35zM438 521h1.35v1.35h-1.35zM440 521h1.35v1.35h-1.35zM445 521h1.35v1.35h-1.35zM450 521h1.35v1.35h-1.35zM453 521h1.35v1.35h-1.35zM401 522h1.35v1.35h-1.35zM407 522h1.35v1.35h-1.35zM410 522h3.35v1.35h-3.35zM414 522h3.35v1.35h-3.35zM418 522h1.35v1.35h-1.35zM420 522h4.35v1.35h-4.35zM426 522h3.35v1.35h-3.35zM432 522h1.35v1.35h-1.35zM434 522h1.35v1.35h-1.35zM437 522h1.35v1.35h-1.35zM439 522h1.35v1.35h-1.35zM445 522h1.35v1.35h-1.35zM448 522h3.35v1.35h-3.35zM405 523h1.35v1.35h-1.35zM408 523h3.35v1.35h-3.35zM412 523h1.35v1.35h-1.35zM415 523h1.35v1.35h-1.35zM418 523h1.35v1.35h-1.35zM420 523h2.35v1.35h-2.35zM424 523h2.35v1.35h-2.35zM428 523h3.35v1.35h-3.35zM433 523h1.35v1.35h-1.35zM436 523h4.35v1.35h-4.35zM442 523h1.35v1.35h-1.35zM446 523h1.35v1.35h-1.35zM449 523h1.35v1.35h-1.35zM395 524h1.35v1.35h-1.35zM406 524h2.35v1.35h-2.35zM411 524h1.35v1.35h-1.35zM416 524h3.35v1.35h-3.35zM420 524h1.35v1.35h-1.35zM422 524h5.35v1.35h-5.35zM428 524h1.35v1.35h-1.35zM430 524h1.35v1.35h-1.35zM433 524h1.35v1.35h-1.35zM435 524h3.35v1.35h-3.35zM441 524h1.35v1.35h-1.35zM443 524h3.35v1.35h-3.35zM402 525h1.35v1.35h-1.35zM404 525h1.35v1.35h-1.35zM407 525h1.35v1.35h-1.35zM409 525h3.35v1.35h-3.35zM413 525h1.35v1.35h-1.35zM416 525h2.35v1.35h-2.35zM424 525h1.35v1.35h-1.35zM428 525h1.35v1.35h-1.35zM430 525h2.35v1.35h-2.35zM433 525h1.35v1.35h-1.35zM435 525h1.35v1.35h-1.35zM437 525h1.35v1.35h-1.35zM439 525h1.35v1.35h-1.35zM441 525h3.35v1.35h-3.35zM445 525h1.35v1.35h-1.35zM447 525h1.35v1.35h-1.35zM399 526h1.35v1.35h-1.35zM401 526h2.35v1.35h-2.35zM404 526h1.35v1.35h-1.35zM407 526h2.35v1.35h-2.35zM410 526h1.35v1.35h-1.35zM412 526h2.35v1.35h-2.35zM415 526h2.35v1.35h-2.35zM420 526h1.35v1.35h-1.35zM422 526h4.35v1.35h-4.35zM427 526h1.35v1.35h-1.35zM430 526h2.35v1.35h-2.35zM441 526h3.35v1.35h-3.35zM445 526h2.35v1.35h-2.35zM393 527h1.35v1.35h-1.35zM401 527h4.35v1.35h-4.35zM407 527h1.35v1.35h-1.35zM409 527h1.35v1.35h-1.35zM414 527h1.35v1.35h-1.35zM416 527h2.35v1.35h-2.35zM421 527h1.35v1.35h-1.35zM423 527h2.35v1.35h-2.35zM428 527h1.35v1.35h-1.35zM431 527h1.35v1.35h-1.35zM433 527h2.35v1.35h-2.35zM438 527h1.35v1.35h-1.35zM440 527h2.35v1.35h-2.35zM446 527h1.35v1.35h-1.35zM451 527h1.35v1.35h-1.35zM457 527h1.35v1.35h-1.35zM401 528h1.35v1.35h-1.35zM404 528h1.35v1.35h-1.35zM407 528h2.35v1.35h-2.35zM412 528h4.35v1.35h-4.35zM418 528h1.35v1.35h-1.35zM425 528h1.35v1.35h-1.35zM427 528h1.35v1.35h-1.35zM431 528h1.35v1.35h-1.35zM433 528h1.35v1.35h-1.35zM437 528h1.35v1.35h-1.35zM439 528h1.35v1.35h-1.35zM441 528h1.35v1.35h-1.35zM446 528h1.35v1.35h-1.35zM449 528h1.35v1.35h-1.35zM457 528h1.35v1.35h-1.35zM397 529h1.35v1.35h-1.35zM399 529h1.35v1.35h-1.35zM401 529h2.35v1.35h-2.35zM404 529h1.35v1.35h-1.35zM407 529h2.35v1.35h-2.35zM411 529h2.35v1.35h-2.35zM416 529h1.35v1.35h-1.35zM419 529h2.35v1.35h-2.35zM422 529h3.35v1.35h-3.35zM426 529h3.35v1.35h-3.35zM431 529h3.35v1.35h-3.35zM438 529h2.35v1.35h-2.35zM442 529h1.35v1.35h-1.35zM444 529h2.35v1.35h-2.35zM447 529h1.35v1.35h-1.35zM335 530h1.35v1.35h-1.35zM398 530h3.35v1.35h-3.35zM409 530h1.35v1.35h-1.35zM411 530h1.35v1.35h-1.35zM414 530h1.35v1.35h-1.35zM416 530h10.35v1.35h-10.35zM429 530h3.35v1.35h-3.35zM433 530h1.35v1.35h-1.35zM435 530h1.35v1.35h-1.35zM438 530h3.35v1.35h-3.35zM442 530h1.35v1.35h-1.35zM445 530h3.35v1.35h-3.35zM399 531h1.35v1.35h-1.35zM401 531h2.35v1.35h-2.35zM404 531h3.35v1.35h-3.35zM411 531h2.35v1.35h-2.35zM415 531h9.35v1.35h-9.35zM426 531h1.35v1.35h-1.35zM428 531h2.35v1.35h-2.35zM434 531h3.35v1.35h-3.35zM438 531h7.35v1.35h-7.35zM402 532h1.35v1.35h-1.35zM404 532h2.35v1.35h-2.35zM407 532h4.35v1.35h-4.35zM413 532h1.35v1.35h-1.35zM415 532h3.35v1.35h-3.35zM420 532h3.35v1.35h-3.35zM424 532h2.35v1.35h-2.35zM430 532h4.35v1.35h-4.35zM435 532h1.35v1.35h-1.35zM437 532h2.35v1.35h-2.35zM442 532h1.35v1.35h-1.35zM446 532h1.35v1.35h-1.35zM460 532h1.35v1.35h-1.35zM384 533h1.35v1.35h-1.35zM392 533h1.35v1.35h-1.35zM398 533h3.35v1.35h-3.35zM402 533h1.35v1.35h-1.35zM404 533h2.35v1.35h-2.35zM408 533h1.35v1.35h-1.35zM411 533h1.35v1.35h-1.35zM413 533h1.35v1.35h-1.35zM415 533h2.35v1.35h-2.35zM418 533h1.35v1.35h-1.35zM421 533h5.35v1.35h-5.35zM427 533h1.35v1.35h-1.35zM432 533h1.35v1.35h-1.35zM435 533h1.35v1.35h-1.35zM437 533h1.35v1.35h-1.35zM442 533h3.35v1.35h-3.35zM395 534h1.35v1.35h-1.35zM397 534h1.35v1.35h-1.35zM401 534h2.35v1.35h-2.35zM407 534h1.35v1.35h-1.35zM409 534h2.35v1.35h-2.35zM414 534h1.35v1.35h-1.35zM417 534h1.35v1.35h-1.35zM419 534h7.35v1.35h-7.35zM432 534h1.35v1.35h-1.35zM437 534h1.35v1.35h-1.35zM444 534h1.35v1.35h-1.35zM447 534h1.35v1.35h-1.35zM397 535h2.35v1.35h-2.35zM401 535h2.35v1.35h-2.35zM405 535h2.35v1.35h-2.35zM410 535h8.35v1.35h-8.35zM420 535h1.35v1.35h-1.35zM425 535h2.35v1.35h-2.35zM435 535h1.35v1.35h-1.35zM438 535h5.35v1.35h-5.35zM446 535h1.35v1.35h-1.35zM391 536h1.35v1.35h-1.35zM399 536h2.35v1.35h-2.35zM402 536h1.35v1.35h-1.35zM404 536h2.35v1.35h-2.35zM408 536h4.35v1.35h-4.35zM413 536h4.35v1.35h-4.35zM418 536h2.35v1.35h-2.35zM421 536h2.35v1.35h-2.35zM424 536h2.35v1.35h-2.35zM428 536h1.35v1.35h-1.35zM430 536h5.35v1.35h-5.35zM437 536h1.35v1.35h-1.35zM439 536h3.35v1.35h-3.35zM443 536h1.35v1.35h-1.35zM455 536h1.35v1.35h-1.35zM388 537h1.35v1.35h-1.35zM395 537h3.35v1.35h-3.35zM399 537h3.35v1.35h-3.35zM403 537h2.35v1.35h-2.35zM407 537h1.35v1.35h-1.35zM409 537h2.35v1.35h-2.35zM412 537h2.35v1.35h-2.35zM415 537h3.35v1.35h-3.35zM419 537h4.35v1.35h-4.35zM424 537h1.35v1.35h-1.35zM427 537h1.35v1.35h-1.35zM429 537h1.35v1.35h-1.35zM434 537h1.35v1.35h-1.35zM436 537h2.35v1.35h-2.35zM440 537h2.35v1.35h-2.35zM444 537h1.35v1.35h-1.35zM446 537h2.35v1.35h-2.35zM395 538h1.35v1.35h-1.35zM398 538h2.35v1.35h-2.35zM402 538h8.35v1.35h-8.35zM411 538h2.35v1.35h-2.35zM415 538h1.35v1.35h-1.35zM418 538h1.35v1.35h-1.35zM420 538h4.35v1.35h-4.35zM425 538h2.35v1.35h-2.35zM428 538h1.35v1.35h-1.35zM430 538h2.35v1.35h-2.35zM433 538h1.35v1.35h-1.35zM439 538h1.35v1.35h-1.35zM442 538h2.35v1.35h-2.35zM453 538h1.35v1.35h-1.35zM394 539h1.35v1.35h-1.35zM403 539h1.35v1.35h-1.35zM406 539h1.35v1.35h-1.35zM409 539h2.35v1.35h-2.35zM412 539h2.35v1.35h-2.35zM415 539h3.35v1.35h-3.35zM420 539h2.35v1.35h-2.35zM423 539h2.35v1.35h-2.35zM426 539h3.35v1.35h-3.35zM430 539h3.35v1.35h-3.35zM434 539h1.35v1.35h-1.35zM436 539h1.35v1.35h-1.35zM439 539h3.35v1.35h-3.35zM387 540h1.35v1.35h-1.35zM395 540h3.35v1.35h-3.35zM402 540h4.35v1.35h-4.35zM407 540h4.35v1.35h-4.35zM412 540h8.35v1.35h-8.35zM421 540h2.35v1.35h-2.35zM428 540h2.35v1.35h-2.35zM434 540h1.35v1.35h-1.35zM436 540h1.35v1.35h-1.35zM439 540h3.35v1.35h-3.35zM446 540h1.35v1.35h-1.35zM474 540h1.35v1.35h-1.35zM393 541h1.35v1.35h-1.35zM395 541h2.35v1.35h-2.35zM398 541h1.35v1.35h-1.35zM400 541h1.35v1.35h-1.35zM402 541h1.35v1.35h-1.35zM405 541h8.35v1.35h-8.35zM414 541h3.35v1.35h-3.35zM418 541h1.35v1.35h-1.35zM420 541h1.35v1.35h-1.35zM422 541h3.35v1.35h-3.35zM428 541h1.35v1.35h-1.35zM430 541h1.35v1.35h-1.35zM436 541h1.35v1.35h-1.35zM390 542h1.35v1.35h-1.35zM395 542h4.35v1.35h-4.35zM400 542h2.35v1.35h-2.35zM403 542h2.35v1.35h-2.35zM406 542h2.35v1.35h-2.35zM411 542h3.35v1.35h-3.35zM416 542h2.35v1.35h-2.35zM420 542h5.35v1.35h-5.35zM427 542h4.35v1.35h-4.35zM433 542h1.35v1.35h-1.35zM439 542h2.35v1.35h-2.35zM442 542h1.35v1.35h-1.35zM444 542h1.35v1.35h-1.35zM398 543h4.35v1.35h-4.35zM403 543h6.35v1.35h-6.35zM410 543h3.35v1.35h-3.35zM415 543h1.35v1.35h-1.35zM417 543h1.35v1.35h-1.35zM421 543h3.35v1.35h-3.35zM425 543h1.35v1.35h-1.35zM427 543h3.35v1.35h-3.35zM432 543h1.35v1.35h-1.35zM437 543h1.35v1.35h-1.35zM439 543h2.35v1.35h-2.35zM442 543h2.35v1.35h-2.35zM460 543h1.35v1.35h-1.35zM388 544h1.35v1.35h-1.35zM397 544h1.35v1.35h-1.35zM399 544h2.35v1.35h-2.35zM402 544h2.35v1.35h-2.35zM405 544h3.35v1.35h-3.35zM409 544h8.35v1.35h-8.35zM418 544h6.35v1.35h-6.35zM425 544h3.35v1.35h-3.35zM430 544h1.35v1.35h-1.35zM432 544h2.35v1.35h-2.35zM437 544h1.35v1.35h-1.35zM439 544h1.35v1.35h-1.35zM444 544h1.35v1.35h-1.35zM396 545h1.35v1.35h-1.35zM399 545h1.35v1.35h-1.35zM401 545h2.35v1.35h-2.35zM404 545h1.35v1.35h-1.35zM406 545h6.35v1.35h-6.35zM413 545h6.35v1.35h-6.35zM420 545h2.35v1.35h-2.35zM423 545h3.35v1.35h-3.35zM427 545h3.35v1.35h-3.35zM431 545h1.35v1.35h-1.35zM433 545h1.35v1.35h-1.35zM437 545h1.35v1.35h-1.35zM397 546h5.35v1.35h-5.35zM403 546h2.35v1.35h-2.35zM406 546h5.35v1.35h-5.35zM415 546h1.35v1.35h-1.35zM417 546h1.35v1.35h-1.35zM420 546h1.35v1.35h-1.35zM422 546h1.35v1.35h-1.35zM426 546h1.35v1.35h-1.35zM429 546h3.35v1.35h-3.35zM435 546h1.35v1.35h-1.35zM438 546h1.35v1.35h-1.35zM443 546h2.35v1.35h-2.35zM393 547h1.35v1.35h-1.35zM395 547h2.35v1.35h-2.35zM399 547h1.35v1.35h-1.35zM401 547h1.35v1.35h-1.35zM404 547h1.35v1.35h-1.35zM406 547h1.35v1.35h-1.35zM408 547h1.35v1.35h-1.35zM410 547h1.35v1.35h-1.35zM412 547h3.35v1.35h-3.35zM416 547h3.35v1.35h-3.35zM420 547h7.35v1.35h-7.35zM428 547h2.35v1.35h-2.35zM433 547h1.35v1.35h-1.35zM435 547h1.35v1.35h-1.35zM438 547h1.35v1.35h-1.35zM443 547h1.35v1.35h-1.35zM460 547h1.35v1.35h-1.35zM393 548h1.35v1.35h-1.35zM401 548h2.35v1.35h-2.35zM404 548h7.35v1.35h-7.35zM412 548h4.35v1.35h-4.35zM419 548h3.35v1.35h-3.35zM423 548h2.35v1.35h-2.35zM426 548h1.35v1.35h-1.35zM428 548h1.35v1.35h-1.35zM431 548h1.35v1.35h-1.35zM434 548h2.35v1.35h-2.35zM437 548h1.35v1.35h-1.35zM440 548h1.35v1.35h-1.35zM445 548h1.35v1.35h-1.35zM393 549h1.35v1.35h-1.35zM395 549h3.35v1.35h-3.35zM403 549h3.35v1.35h-3.35zM407 549h3.35v1.35h-3.35zM412 549h2.35v1.35h-2.35zM416 549h1.35v1.35h-1.35zM418 549h1.35v1.35h-1.35zM421 549h2.35v1.35h-2.35zM426 549h1.35v1.35h-1.35zM428 549h2.35v1.35h-2.35zM433 549h1.35v1.35h-1.35zM435 549h1.35v1.35h-1.35zM438 549h1.35v1.35h-1.35zM442 549h1.35v1.35h-1.35zM452 549h1.35v1.35h-1.35zM392 550h1.35v1.35h-1.35zM397 550h2.35v1.35h-2.35zM402 550h3.35v1.35h-3.35zM409 550h1.35v1.35h-1.35zM411 550h1.35v1.35h-1.35zM414 550h1.35v1.35h-1.35zM417 550h2.35v1.35h-2.35zM420 550h1.35v1.35h-1.35zM423 550h1.35v1.35h-1.35zM425 550h1.35v1.35h-1.35zM427 550h1.35v1.35h-1.35zM431 550h1.35v1.35h-1.35zM434 550h2.35v1.35h-2.35zM396 551h1.35v1.35h-1.35zM399 551h1.35v1.35h-1.35zM401 551h4.35v1.35h-4.35zM410 551h12.35v1.35h-12.35zM425 551h1.35v1.35h-1.35zM427 551h3.35v1.35h-3.35zM431 551h4.35v1.35h-4.35zM438 551h2.35v1.35h-2.35zM443 551h1.35v1.35h-1.35zM388 552h1.35v1.35h-1.35zM394 552h1.35v1.35h-1.35zM398 552h3.35v1.35h-3.35zM402 552h5.35v1.35h-5.35zM408 552h3.35v1.35h-3.35zM412 552h1.35v1.35h-1.35zM414 552h4.35v1.35h-4.35zM423 552h3.35v1.35h-3.35zM428 552h2.35v1.35h-2.35zM431 552h1.35v1.35h-1.35zM435 552h2.35v1.35h-2.35zM440 552h1.35v1.35h-1.35zM393 553h2.35v1.35h-2.35zM396 553h9.35v1.35h-9.35zM406 553h1.35v1.35h-1.35zM408 553h6.35v1.35h-6.35zM415 553h6.35v1.35h-6.35zM425 553h1.35v1.35h-1.35zM427 553h1.35v1.35h-1.35zM431 553h1.35v1.35h-1.35zM433 553h2.35v1.35h-2.35zM437 553h1.35v1.35h-1.35zM439 553h1.35v1.35h-1.35zM448 553h1.35v1.35h-1.35zM455 553h1.35v1.35h-1.35zM396 554h23.35v1.35h-23.35zM420 554h2.35v1.35h-2.35zM426 554h2.35v1.35h-2.35zM441 554h1.35v1.35h-1.35zM384 555h1.35v1.35h-1.35zM396 555h1.35v1.35h-1.35zM398 555h22.35v1.35h-22.35zM431 555h2.35v1.35h-2.35zM452 555h1.35v1.35h-1.35zM397 556h22.35v1.35h-22.35zM428 556h1.35v1.35h-1.35zM437 556h1.35v1.35h-1.35zM442 556h1.35v1.35h-1.35zM448 556h1.35v1.35h-1.35zM453 556h1.35v1.35h-1.35zM395 557h25.35v1.35h-25.35zM438 557h1.35v1.35h-1.35zM394 558h1.35v1.35h-1.35zM397 558h22.35v1.35h-22.35zM435 558h1.35v1.35h-1.35zM443 558h1.35v1.35h-1.35zM470 558h1.35v1.35h-1.35zM392 559h1.35v1.35h-1.35zM397 559h21.35v1.35h-21.35zM423 559h1.35v1.35h-1.35zM433 559h1.35v1.35h-1.35zM392 560h1.35v1.35h-1.35zM396 560h22.35v1.35h-22.35zM391 561h1.35v1.35h-1.35zM394 561h1.35v1.35h-1.35zM396 561h22.35v1.35h-22.35zM419 561h2.35v1.35h-2.35zM437 561h1.35v1.35h-1.35zM440 561h1.35v1.35h-1.35zM447 561h1.35v1.35h-1.35zM451 561h1.35v1.35h-1.35zM395 562h23.35v1.35h-23.35zM439 562h1.35v1.35h-1.35zM396 563h23.35v1.35h-23.35zM425 563h1.35v1.35h-1.35zM442 563h1.35v1.35h-1.35zM448 563h1.35v1.35h-1.35zM396 564h23.35v1.35h-23.35zM394 565h24.35v1.35h-24.35zM433 565h1.35v1.35h-1.35zM389 566h1.35v1.35h-1.35zM393 566h24.35v1.35h-24.35zM443 566h1.35v1.35h-1.35zM378 567h1.35v1.35h-1.35zM388 567h1.35v1.35h-1.35zM393 567h2.35v1.35h-2.35zM397 567h19.35v1.35h-19.35zM417 567h1.35v1.35h-1.35zM424 567h1.35v1.35h-1.35zM432 567h1.35v1.35h-1.35zM446 567h1.35v1.35h-1.35zM362 568h1.35v1.35h-1.35zM394 568h1.35v1.35h-1.35zM397 568h21.35v1.35h-21.35zM419 568h1.35v1.35h-1.35zM388 569h1.35v1.35h-1.35zM393 569h1.35v1.35h-1.35zM396 569h20.35v1.35h-20.35zM417 569h1.35v1.35h-1.35zM375 570h1.35v1.35h-1.35zM383 570h1.35v1.35h-1.35zM395 570h19.35v1.35h-19.35zM415 570h1.35v1.35h-1.35zM420 570h1.35v1.35h-1.35zM391 571h1.35v1.35h-1.35zM395 571h20.35v1.35h-20.35zM418 571h1.35v1.35h-1.35zM474 571h1.35v1.35h-1.35zM381 572h1.35v1.35h-1.35zM396 572h1.35v1.35h-1.35zM398 572h17.35v1.35h-17.35zM418 572h1.35v1.35h-1.35zM424 572h1.35v1.35h-1.35zM374 573h1.35v1.35h-1.35zM386 573h1.35v1.35h-1.35zM397 573h19.35v1.35h-19.35zM373 574h1.35v1.35h-1.35zM397 574h16.35v1.35h-16.35zM414 574h2.35v1.35h-2.35zM434 574h1.35v1.35h-1.35zM449 574h1.35v1.35h-1.35zM386 575h1.35v1.35h-1.35zM397 575h15.35v1.35h-15.35zM417 575h1.35v1.35h-1.35zM365 576h1.35v1.35h-1.35zM371 576h2.35v1.35h-2.35zM380 576h1.35v1.35h-1.35zM388 576h1.35v1.35h-1.35zM390 576h1.35v1.35h-1.35zM396 576h15.35v1.35h-15.35zM413 576h1.35v1.35h-1.35zM423 576h1.35v1.35h-1.35zM443 576h1.35v1.35h-1.35zM394 577h2.35v1.35h-2.35zM398 577h15.35v1.35h-15.35zM387 578h1.35v1.35h-1.35zM398 578h11.35v1.35h-11.35zM412 578h1.35v1.35h-1.35zM415 578h1.35v1.35h-1.35zM418 578h1.35v1.35h-1.35zM371 579h1.35v1.35h-1.35zM390 579h1.35v1.35h-1.35zM393 579h1.35v1.35h-1.35zM399 579h2.35v1.35h-2.35zM402 579h4.35v1.35h-4.35zM407 579h1.35v1.35h-1.35zM409 579h1.35v1.35h-1.35zM421 579h1.35v1.35h-1.35zM446 579h1.35v1.35h-1.35zM392 580h1.35v1.35h-1.35zM400 580h2.35v1.35h-2.35zM403 580h4.35v1.35h-4.35zM411 580h1.35v1.35h-1.35zM419 580h1.35v1.35h-1.35zM424 580h1.35v1.35h-1.35zM370 581h1.35v1.35h-1.35zM400 581h1.35v1.35h-1.35zM403 581h1.35v1.35h-1.35zM407 581h1.35v1.35h-1.35zM409 581h1.35v1.35h-1.35zM412 581h1.35v1.35h-1.35zM395 582h1.35v1.35h-1.35zM399 582h2.35v1.35h-2.35zM405 582h1.35v1.35h-1.35zM408 582h1.35v1.35h-1.35zM377 583h1.35v1.35h-1.35zM394 583h2.35v1.35h-2.35zM402 583h2.35v1.35h-2.35zM409 583h1.35v1.35h-1.35zM412 583h1.35v1.35h-1.35zM417 583h1.35v1.35h-1.35zM390 584h1.35v1.35h-1.35zM396 584h1.35v1.35h-1.35zM400 584h1.35v1.35h-1.35zM402 584h2.35v1.35h-2.35zM405 584h1.35v1.35h-1.35zM407 584h1.35v1.35h-1.35zM409 584h1.35v1.35h-1.35zM413 584h1.35v1.35h-1.35zM415 584h1.35v1.35h-1.35zM390 585h1.35v1.35h-1.35zM397 585h1.35v1.35h-1.35zM400 585h2.35v1.35h-2.35zM416 585h1.35v1.35h-1.35zM390 586h1.35v1.35h-1.35zM404 586h1.35v1.35h-1.35zM406 586h1.35v1.35h-1.35zM412 586h2.35v1.35h-2.35zM389 587h1.35v1.35h-1.35zM403 587h1.35v1.35h-1.35zM406 587h1.35v1.35h-1.35zM395 588h1.35v1.35h-1.35zM397 588h1.35v1.35h-1.35zM400 588h1.35v1.35h-1.35zM403 588h1.35v1.35h-1.35zM406 588h1.35v1.35h-1.35zM409 588h1.35v1.35h-1.35zM380 589h1.35v1.35h-1.35zM404 589h3.35v1.35h-3.35zM412 589h1.35v1.35h-1.35zM414 589h1.35v1.35h-1.35zM393 590h1.35v1.35h-1.35zM397 590h1.35v1.35h-1.35zM414 590h1.35v1.35h-1.35zM386 591h1.35v1.35h-1.35zM401 591h1.35v1.35h-1.35zM403 591h1.35v1.35h-1.35zM411 591h1.35v1.35h-1.35zM391 592h1.35v1.35h-1.35zM402 592h1.35v1.35h-1.35zM404 592h1.35v1.35h-1.35zM408 592h1.35v1.35h-1.35zM410 592h1.35v1.35h-1.35zM414 592h1.35v1.35h-1.35zM392 593h1.35v1.35h-1.35zM396 593h2.35v1.35h-2.35zM400 593h1.35v1.35h-1.35zM407 593h1.35v1.35h-1.35zM412 593h1.35v1.35h-1.35zM414 593h1.35v1.35h-1.35zM397 594h1.35v1.35h-1.35zM402 594h1.35v1.35h-1.35zM407 594h2.35v1.35h-2.35zM411 594h1.35v1.35h-1.35zM414 594h1.35v1.35h-1.35zM434 594h1.35v1.35h-1.35zM405 595h1.35v1.35h-1.35zM411 595h2.35v1.35h-2.35zM375 597h1.35v1.35h-1.35zM391 597h1.35v1.35h-1.35zM412 597h1.35v1.35h-1.35zM457 597h1.35v1.35h-1.35zM403 598h1.35v1.35h-1.35zM402 599h1.35v1.35h-1.35zM406 599h1.35v1.35h-1.35zM408 600h1.35v1.35h-1.35zM379 601h1.35v1.35h-1.35zM426 601h1.35v1.35h-1.35zM384 602h1.35v1.35h-1.35zM416 602h1.35v1.35h-1.35zM434 605h1.35v1.35h-1.35zM407 607h1.35v1.35h-1.35zM456 619h1.35v1.35h-1.35z" fill="#000"/>
<line x1="308" y1="552.46" x2="490.4" y2="552.46" stroke="#d06f98" stroke-width="2"/>
<line x1="423.21" y1="471.8" x2="423.21" y2="623.8" stroke="#d06f98" stroke-width="2"/>
<rect x="308" y="471.8" width="182.4" height="152" fill="none" stroke="#0f4e8c" stroke-width="1.8"/>
<path d="M301.7 471.8H308M490.4 623.8V630.1M301.7 623.8H308M308 623.8V630.1" stroke="#0f4e8c" stroke-width="1.8" fill="none"/>
<path d="M301.7 623.5H308M301.7 616.5H308M301.7 612.5H308M301.7 609.5H308M301.7 606.5H308M301.7 604.5H308M301.7 603.5H308M301.7 601.5H308M301.7 600.5H308M301.7 599.5H308M301.7 592.5H308M301.7 587.5H308M301.7 584.5H308M301.7 582.5H308M301.7 580.5H308M301.7 578.5H308M301.7 577.5H308M301.7 576.5H308M301.7 575.5H308M301.7 567.5H308M301.7 563.5H308M301.7 560.5H308M301.7 558.5H308M301.7 556.5H308M301.7 554.5H308M301.7 553.5H308M301.7 551.5H308M301.7 550.5H308M301.7 543.5H308M301.7 539.5H308M301.7 536.5H308M301.7 533.5H308M301.7 531.5H308M301.7 530.5H308M301.7 528.5H308M301.7 527.5H308M301.7 526.5H308M301.7 519.5H308M301.7 514.5H308M301.7 511.5H308M301.7 509.5H308M301.7 507.5H308M301.7 505.5H308M301.7 504.5H308M301.7 503.5H308M301.7 502.5H308M301.7 494.5H308M301.7 490.5H308M301.7 487.5H308M301.7 485.5H308M301.7 483.5H308M301.7 481.5H308M301.7 480.5H308M301.7 478.5H308M301.7 477.5H308" stroke="#0f4e8c" stroke-width="1.0" fill="none"/>
<path d="M308.5 623.8V630.1M316.5 623.8V630.1M322.5 623.8V630.1M325.5 623.8V630.1M328.5 623.8V630.1M330.5 623.8V630.1M332.5 623.8V630.1M334.5 623.8V630.1M336.5 623.8V630.1M337.5 623.8V630.1M346.5 623.8V630.1M351.5 623.8V630.1M355.5 623.8V630.1M357.5 623.8V630.1M360.5 623.8V630.1M362.5 623.8V630.1M363.5 623.8V630.1M365.5 623.8V630.1M366.5 623.8V630.1M375.5 623.8V630.1M380.5 623.8V630.1M384.5 623.8V630.1M387.5 623.8V630.1M389.5 623.8V630.1M391.5 623.8V630.1M393.5 623.8V630.1M394.5 623.8V630.1M396.5 623.8V630.1M405.5 623.8V630.1M410.5 623.8V630.1M413.5 623.8V630.1M416.5 623.8V630.1M419.5 623.8V630.1M421.5 623.8V630.1M422.5 623.8V630.1M424.5 623.8V630.1M425.5 623.8V630.1M434.5 623.8V630.1M439.5 623.8V630.1M443.5 623.8V630.1M446.5 623.8V630.1M448.5 623.8V630.1M450.5 623.8V630.1M452.5 623.8V630.1M453.5 623.8V630.1M455.5 623.8V630.1M463.5 623.8V630.1M469.5 623.8V630.1M472.5 623.8V630.1M475.5 623.8V630.1M477.5 623.8V630.1M479.5 623.8V630.1M481.5 623.8V630.1M483.5 623.8V630.1M484.5 623.8V630.1" stroke="#0f4e8c" stroke-width="1.25" fill="none"/>
<text x="295.8" y="626.8" font-size="10.8" text-anchor="end" fill="#0f4e8c">1</text>
<text x="289.4" y="630.2" font-size="6.6" textLength="6.4" lengthAdjust="spacingAndGlyphs" text-anchor="end" fill="#0f4e8c">10</text>
<text x="295.8" y="602.28" font-size="10.8" text-anchor="end" fill="#0f4e8c">2</text>
<text x="289.4" y="605.68" font-size="6.6" textLength="6.4" lengthAdjust="spacingAndGlyphs" text-anchor="end" fill="#0f4e8c">10</text>
<text x="295.8" y="577.77" font-size="10.8" text-anchor="end" fill="#0f4e8c">3</text>
<text x="289.4" y="581.17" font-size="6.6" textLength="6.4" lengthAdjust="spacingAndGlyphs" text-anchor="end" fill="#0f4e8c">10</text>
<text x="295.8" y="553.25" font-size="10.8" text-anchor="end" fill="#0f4e8c">4</text>
<text x="289.4" y="556.65" font-size="6.6" textLength="6.4" lengthAdjust="spacingAndGlyphs" text-anchor="end" fill="#0f4e8c">10</text>
<text x="295.8" y="528.74" font-size="10.8" text-anchor="end" fill="#0f4e8c">5</text>
<text x="289.4" y="532.14" font-size="6.6" textLength="6.4" lengthAdjust="spacingAndGlyphs" text-anchor="end" fill="#0f4e8c">10</text>
<text x="295.8" y="504.22" font-size="10.8" text-anchor="end" fill="#0f4e8c">6</text>
<text x="289.4" y="507.62" font-size="6.6" textLength="6.4" lengthAdjust="spacingAndGlyphs" text-anchor="end" fill="#0f4e8c">10</text>
<text x="295.8" y="479" font-size="10.8" text-anchor="end" fill="#0f4e8c">7.2</text>
<text x="280.7" y="482.4" font-size="6.6" textLength="6.4" lengthAdjust="spacingAndGlyphs" text-anchor="end" fill="#0f4e8c">10</text>
<text x="307.5" y="645.4" font-size="6.6" textLength="6.4" lengthAdjust="spacingAndGlyphs" text-anchor="end" fill="#0f4e8c">10</text>
<text x="307.3" y="641.8" font-size="10.8" fill="#0f4e8c">1</text>
<text x="336.95" y="645.4" font-size="6.6" textLength="6.4" lengthAdjust="spacingAndGlyphs" text-anchor="end" fill="#0f4e8c">10</text>
<text x="336.75" y="641.8" font-size="10.8" fill="#0f4e8c">2</text>
<text x="367.15" y="645.4" font-size="6.6" textLength="6.4" lengthAdjust="spacingAndGlyphs" text-anchor="end" fill="#0f4e8c">10</text>
<text x="366.95" y="641.8" font-size="10.8" fill="#0f4e8c">3</text>
<text x="397.45" y="645.4" font-size="6.6" textLength="6.4" lengthAdjust="spacingAndGlyphs" text-anchor="end" fill="#0f4e8c">10</text>
<text x="397.25" y="641.8" font-size="10.8" fill="#0f4e8c">4</text>
<text x="426.95" y="645.4" font-size="6.6" textLength="6.4" lengthAdjust="spacingAndGlyphs" text-anchor="end" fill="#0f4e8c">10</text>
<text x="426.75" y="641.8" font-size="10.8" fill="#0f4e8c">5</text>
<text x="456.95" y="645.4" font-size="6.6" textLength="6.4" lengthAdjust="spacingAndGlyphs" text-anchor="end" fill="#0f4e8c">10</text>
<text x="456.75" y="641.8" font-size="10.8" fill="#0f4e8c">6</text>
<text x="483" y="645.4" font-size="6.6" textLength="6.4" lengthAdjust="spacingAndGlyphs" text-anchor="end" fill="#0f4e8c">10</text>
<text x="482.8" y="641.8" font-size="10.8" fill="#0f4e8c">7.2</text>
<text x="372.7" y="659.3" font-size="13.8" textLength="52.7" lengthAdjust="spacingAndGlyphs">E selectin</text>
<text transform="translate(274.8 567.3) rotate(-90)" font-size="13.2" textLength="38.4" lengthAdjust="spacingAndGlyphs" fill="#231f20">VCAM1</text>
<text x="314.2" y="487.5" font-size="8.8" textLength="33.6" lengthAdjust="spacingAndGlyphs" fill="#1a1a1a">19 <tspan font-size="10.56">±</tspan> 1.2</text>
<text x="481.3" y="487.4" font-size="8.8" textLength="33.6" lengthAdjust="spacingAndGlyphs" text-anchor="end" fill="#1a1a1a">21 <tspan font-size="10.56">±</tspan> 0.6</text>
<text x="312.8" y="615.2" font-size="10.5" textLength="38" lengthAdjust="spacingAndGlyphs" fill="#1a1a1a">57 <tspan font-size="12.6">±</tspan> 1.6</text>
<text x="483.8" y="615.8" font-size="10" textLength="41.3" lengthAdjust="spacingAndGlyphs" text-anchor="end" fill="#1a1a1a">3.8 <tspan font-size="12">±</tspan> 0.2</text>
<rect x="1" y="0.9" width="518" height="671.1" fill="none" stroke="#000" stroke-width="2"/>
</svg>
</body></html>
